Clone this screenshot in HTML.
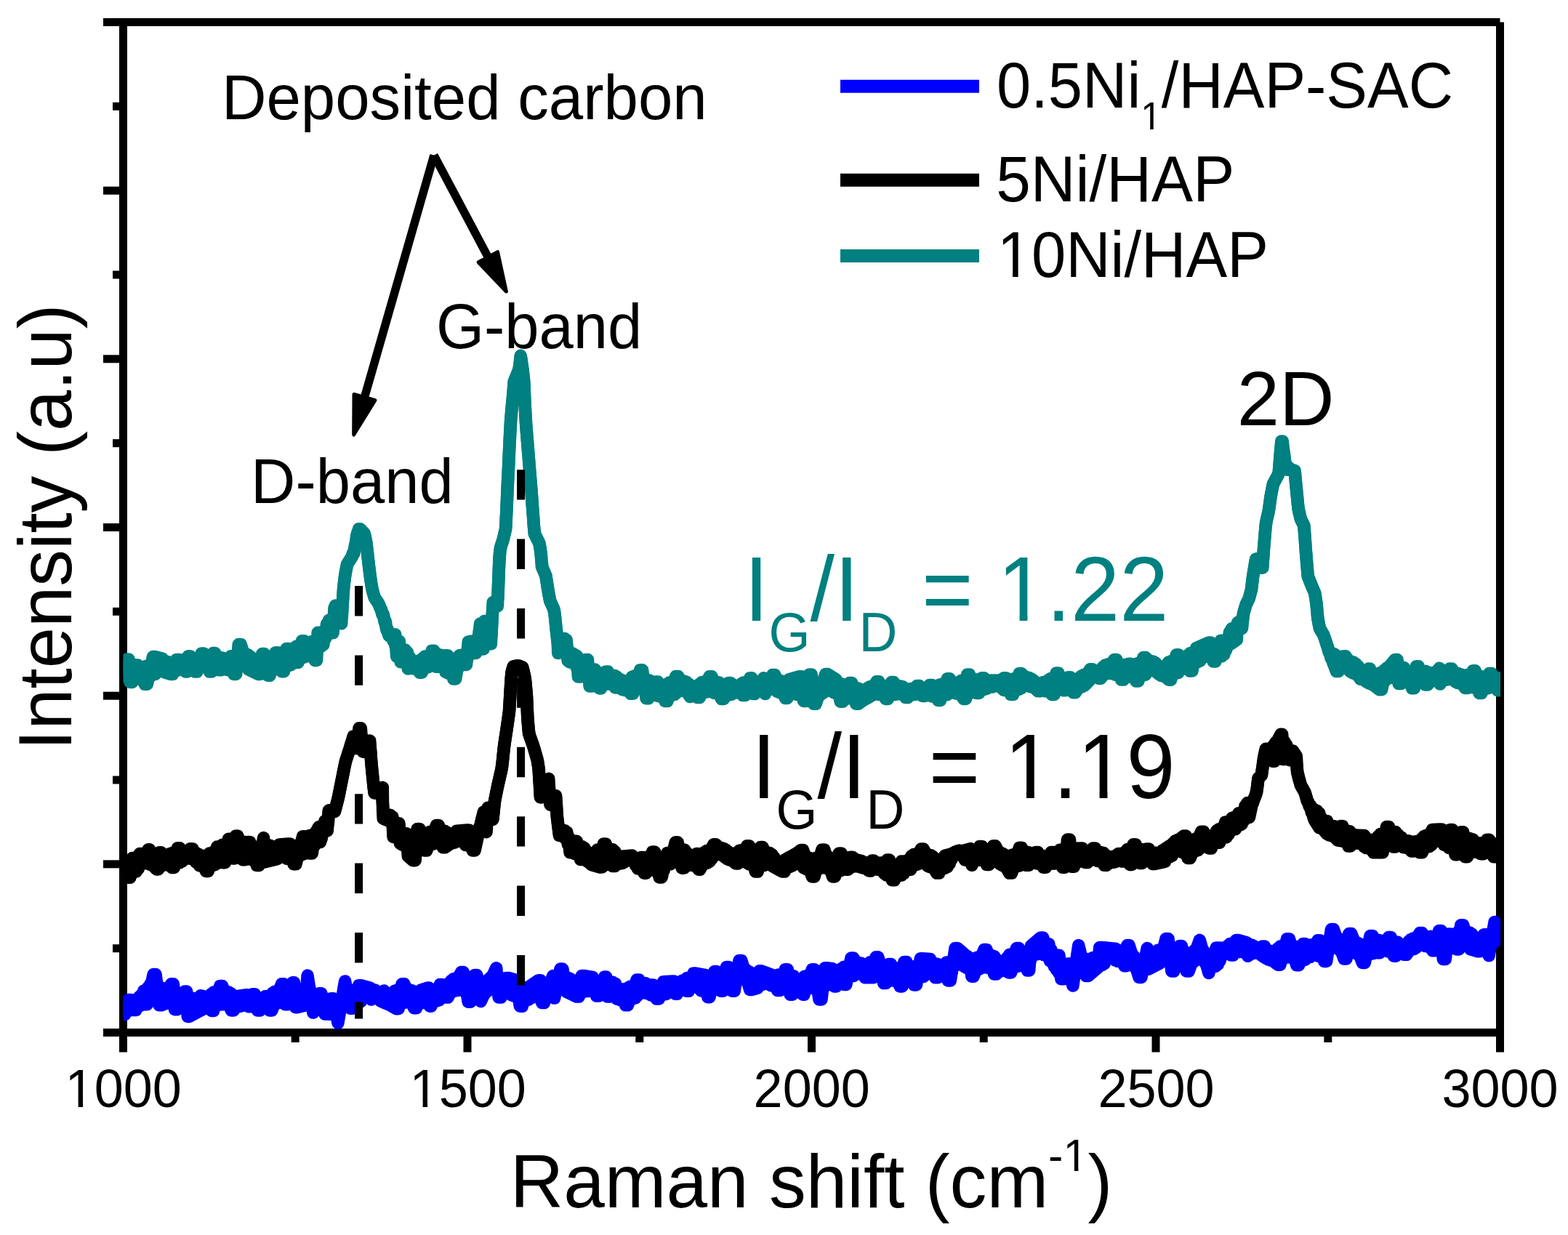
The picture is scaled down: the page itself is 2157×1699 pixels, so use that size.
<!DOCTYPE html>
<html lang="en"><head><meta charset="utf-8"><title>Raman spectra</title>
<style>
html,body{margin:0;padding:0;background:#fff;}
body{width:2157px;height:1699px;overflow:hidden;font-family:"Liberation Sans",sans-serif;}
svg{display:block;}
text{font-family:"Liberation Sans",sans-serif;}
</style></head><body>
<svg width="2157" height="1699" viewBox="0 0 2157 1699"><rect x="0" y="0" width="2157" height="1699" fill="#fff"/><g id="axes"><line x1="142.0" y1="30.5" x2="2063.5" y2="30.5" stroke="#000" stroke-width="11"/><line x1="142.0" y1="1420.5" x2="2063.5" y2="1420.5" stroke="#000" stroke-width="11"/><line x1="169.5" y1="30.5" x2="169.5" y2="1447.5" stroke="#000" stroke-width="11"/><line x1="2063.5" y1="30.5" x2="2063.5" y2="1447.5" stroke="#000" stroke-width="11"/><line x1="142.0" y1="262.2" x2="169.5" y2="262.2" stroke="#000" stroke-width="11"/><line x1="142.0" y1="493.8" x2="169.5" y2="493.8" stroke="#000" stroke-width="11"/><line x1="142.0" y1="725.5" x2="169.5" y2="725.5" stroke="#000" stroke-width="11"/><line x1="142.0" y1="957.2" x2="169.5" y2="957.2" stroke="#000" stroke-width="11"/><line x1="142.0" y1="1188.8" x2="169.5" y2="1188.8" stroke="#000" stroke-width="11"/><line x1="155.0" y1="146.3" x2="169.5" y2="146.3" stroke="#000" stroke-width="11"/><line x1="155.0" y1="378.0" x2="169.5" y2="378.0" stroke="#000" stroke-width="11"/><line x1="155.0" y1="609.7" x2="169.5" y2="609.7" stroke="#000" stroke-width="11"/><line x1="155.0" y1="841.3" x2="169.5" y2="841.3" stroke="#000" stroke-width="11"/><line x1="155.0" y1="1073.0" x2="169.5" y2="1073.0" stroke="#000" stroke-width="11"/><line x1="155.0" y1="1304.7" x2="169.5" y2="1304.7" stroke="#000" stroke-width="11"/><line x1="643.0" y1="1420.5" x2="643.0" y2="1447.5" stroke="#000" stroke-width="11"/><line x1="1116.5" y1="1420.5" x2="1116.5" y2="1447.5" stroke="#000" stroke-width="11"/><line x1="1590.0" y1="1420.5" x2="1590.0" y2="1447.5" stroke="#000" stroke-width="11"/><line x1="406.2" y1="1420.5" x2="406.2" y2="1434.0" stroke="#000" stroke-width="11"/><line x1="879.8" y1="1420.5" x2="879.8" y2="1434.0" stroke="#000" stroke-width="11"/><line x1="1353.2" y1="1420.5" x2="1353.2" y2="1434.0" stroke="#000" stroke-width="11"/><line x1="1826.8" y1="1420.5" x2="1826.8" y2="1434.0" stroke="#000" stroke-width="11"/></g><g id="curves"><clipPath id="c"><rect x="169.5" y="30.5" width="1894.4" height="1390.0"/></clipPath><g clip-path="url(#c)"><polyline points="167.8,1380.6 169.3,1390.5 170.8,1380.6 172.3,1390.5 173.8,1380.6 175.3,1390.5 176.8,1380.1 178.3,1390.1 179.8,1378.8 181.3,1389.4 182.8,1377.3 184.3,1387.4 185.8,1376.6 187.3,1385.6 188.8,1376.2 190.3,1385.0 191.8,1374.3 193.3,1383.2 194.8,1368.3 196.3,1379.6 197.8,1362.9 199.3,1377.3 200.8,1361.8 202.3,1375.3 203.8,1358.3 205.3,1370.6 206.8,1354.0 208.3,1366.5 209.8,1349.7 211.3,1362.4 212.8,1347.7 214.3,1363.1 215.8,1352.5 217.3,1371.1 218.8,1360.9 220.3,1375.6 221.8,1361.2 223.3,1375.1 224.8,1359.6 226.3,1375.8 227.8,1361.0 229.3,1378.1 230.8,1362.9 232.3,1379.8 233.8,1362.6 235.3,1379.1 236.8,1362.2 238.3,1379.2 239.8,1363.0 241.3,1380.2 242.8,1364.6 244.3,1382.2 245.8,1367.5 247.3,1383.7 248.8,1368.5 250.3,1385.2 251.8,1369.9 253.3,1387.2 254.8,1372.2 256.3,1389.3 257.8,1372.8 259.3,1389.9 260.8,1373.0 262.3,1389.9 263.8,1373.0 265.3,1389.9 266.8,1373.8 268.3,1390.5 269.8,1375.6 271.3,1390.9 272.8,1376.9 274.3,1390.5 275.8,1376.6 277.3,1389.4 278.8,1376.2 280.3,1388.1 281.8,1375.8 283.3,1386.9 284.8,1375.1 286.3,1385.4 287.8,1371.7 289.3,1383.6 290.8,1367.3 292.3,1382.3 293.8,1365.1 295.3,1382.1 296.8,1365.1 298.3,1382.0 299.8,1365.0 301.3,1382.0 302.8,1365.0 304.3,1381.9 305.8,1364.9 307.3,1381.7 308.8,1364.9 310.3,1381.6 311.8,1364.9 313.3,1381.6 314.8,1364.9 316.3,1381.9 317.8,1366.7 319.3,1382.9 320.8,1370.6 322.3,1384.2 323.8,1373.6 325.3,1384.7 326.8,1374.2 328.3,1384.7 329.8,1374.1 331.3,1384.2 332.8,1373.5 334.3,1382.4 335.8,1372.6 337.3,1380.7 338.8,1372.1 340.3,1381.6 341.8,1372.7 343.3,1383.3 344.8,1373.3 346.3,1384.5 347.8,1373.4 349.3,1384.5 350.8,1373.4 352.3,1384.5 353.8,1373.4 355.3,1384.5 356.8,1373.4 358.3,1384.5 359.8,1373.6 361.3,1384.7 362.8,1374.5 364.3,1385.0 365.8,1375.4 367.3,1385.0 368.8,1374.1 370.3,1384.1 371.8,1370.3 373.3,1382.7 374.8,1366.2 376.3,1381.4 377.8,1364.2 379.3,1380.5 380.8,1363.6 382.3,1379.9 383.8,1362.8 385.3,1378.7 386.8,1361.7 388.3,1376.4 389.8,1360.4 391.3,1374.9 392.8,1359.8 394.3,1375.8 395.8,1360.0 397.3,1377.0 398.8,1360.3 400.3,1377.3 401.8,1360.3 403.3,1377.3 404.8,1360.3 406.3,1377.3 407.8,1360.9 409.3,1377.5 410.8,1361.0 412.3,1377.5 413.8,1361.4 415.3,1378.3 416.8,1364.9 418.3,1380.4 419.8,1367.6 421.3,1378.4 422.8,1352.6 424.3,1366.6 425.8,1359.2 427.3,1376.0 428.8,1368.7 430.3,1385.5 431.8,1373.9 433.3,1383.5 434.8,1368.0 436.3,1382.0 437.8,1368.2 439.3,1384.5 440.8,1373.0 442.3,1388.0 443.8,1373.9 445.3,1388.0 446.8,1373.9 448.3,1388.5 449.8,1375.6 451.3,1391.8 452.8,1377.4 454.3,1395.3 455.8,1379.5 457.3,1393.9 458.8,1376.9 460.3,1390.8 461.8,1381.0 463.3,1397.0 464.8,1397.6 466.3,1397.9 467.8,1386.1 469.3,1383.1 470.8,1371.3 472.3,1368.2 473.8,1356.6 475.3,1363.0 476.8,1361.9 478.3,1377.3 479.8,1367.1 481.3,1381.0 482.8,1364.0 484.3,1379.0 485.8,1362.5 487.3,1378.8 488.8,1362.9 490.3,1379.1 491.8,1363.6 493.3,1379.4 494.8,1363.5 496.3,1377.8 497.8,1362.4 499.3,1373.9 500.8,1361.1 502.3,1370.6 503.8,1360.5 505.3,1370.1 506.8,1360.6 508.3,1370.2 509.8,1360.9 511.3,1370.3 512.8,1361.4 514.3,1370.6 515.8,1362.2 517.3,1372.1 518.8,1363.9 520.3,1374.7 521.8,1366.3 523.3,1377.0 524.8,1368.1 526.3,1378.5 527.8,1368.5 529.3,1379.9 530.8,1369.0 532.3,1380.9 533.8,1369.2 535.3,1381.5 536.8,1369.2 538.3,1381.1 539.8,1366.4 541.3,1380.1 542.8,1363.3 544.3,1379.2 545.8,1362.3 547.3,1379.2 548.8,1362.3 550.3,1379.2 551.8,1362.3 553.3,1379.2 554.8,1362.3 556.3,1379.2 557.8,1362.2 559.3,1378.9 560.8,1362.1 562.3,1378.6 563.8,1362.0 565.3,1378.5 566.8,1362.7 568.3,1379.1 569.8,1364.8 571.3,1379.7 572.8,1366.4 574.3,1380.0 575.8,1366.2 577.3,1379.8 578.8,1366.0 580.3,1379.8 581.8,1365.9 583.3,1379.3 584.8,1365.7 586.3,1378.5 587.8,1365.4 589.3,1377.8 590.8,1364.4 592.3,1377.3 593.8,1362.9 595.3,1376.9 596.8,1362.0 598.3,1376.8 599.8,1362.0 601.3,1376.8 602.8,1361.9 604.3,1375.8 605.8,1361.2 607.3,1372.5 608.8,1359.9 610.3,1369.1 611.8,1358.6 613.3,1367.3 614.8,1356.4 616.3,1366.3 617.8,1352.6 619.3,1364.9 620.8,1348.9 622.3,1363.9 623.8,1346.8 625.3,1363.3 626.8,1346.1 628.3,1362.3 629.8,1346.3 631.3,1362.2 632.8,1346.0 634.3,1361.4 635.8,1345.3 637.3,1360.5 638.8,1347.2 640.3,1364.6 641.8,1351.9 643.3,1369.3 644.8,1355.7 646.3,1370.6 647.8,1354.1 649.3,1367.9 650.8,1350.6 652.3,1365.7 653.8,1349.6 655.3,1366.2 656.8,1350.3 658.3,1367.7 659.8,1351.6 661.3,1368.5 662.8,1351.5 664.3,1367.9 665.8,1351.3 667.3,1366.6 668.8,1349.9 670.3,1363.8 671.8,1347.4 673.3,1360.6 674.8,1344.7 676.3,1358.3 677.8,1342.4 679.3,1357.0 680.8,1340.9 682.3,1355.8 683.8,1342.8 685.3,1362.1 686.8,1348.8 688.3,1364.3 689.8,1348.3 691.3,1362.7 692.8,1346.3 694.3,1362.1 695.8,1347.9 697.3,1363.5 698.8,1351.8 700.3,1366.4 701.8,1352.8 703.3,1368.7 704.8,1353.6 706.3,1370.0 707.8,1353.7 709.3,1369.7 710.8,1354.9 712.3,1372.7 713.8,1358.4 715.3,1375.8 716.8,1359.8 718.3,1375.9 719.8,1359.1 721.3,1375.4 722.8,1359.0 724.3,1375.4 725.8,1359.1 727.3,1375.2 728.8,1357.7 730.3,1373.2 731.8,1356.7 733.3,1371.8 734.8,1356.3 736.3,1371.6 737.8,1356.4 739.3,1371.8 740.8,1356.4 742.3,1371.8 743.8,1356.3 745.3,1371.6 746.8,1355.4 748.3,1371.3 749.8,1354.3 751.3,1370.8 752.8,1353.8 754.3,1369.7 755.8,1352.3 757.3,1365.6 758.8,1347.6 760.3,1360.3 761.8,1348.9 763.3,1365.6 764.8,1347.7 766.3,1361.0 767.8,1343.9 769.3,1358.2 770.8,1341.1 772.3,1357.2 773.8,1341.2 775.3,1358.5 776.8,1343.4 778.3,1360.5 779.8,1345.0 781.3,1361.8 782.8,1345.6 784.3,1362.5 785.8,1347.3 787.3,1363.4 788.8,1349.1 790.3,1364.0 791.8,1349.6 793.3,1364.0 794.8,1349.6 796.3,1364.0 797.8,1349.6 799.3,1364.0 800.8,1349.6 802.3,1364.0 803.8,1349.6 805.3,1363.9 806.8,1349.6 808.3,1363.6 809.8,1349.5 811.3,1363.3 812.8,1349.4 814.3,1363.3 815.8,1349.5 817.3,1363.3 818.8,1349.8 820.3,1363.5 821.8,1350.3 823.3,1363.9 824.8,1350.6 826.3,1364.3 827.8,1350.8 829.3,1364.3 830.8,1350.8 832.3,1364.3 833.8,1350.9 835.3,1364.9 836.8,1351.1 838.3,1365.5 839.8,1351.3 841.3,1365.8 842.8,1351.3 844.3,1366.6 845.8,1355.2 847.3,1370.6 848.8,1359.5 850.3,1374.6 851.8,1361.5 853.3,1375.7 854.8,1361.5 856.3,1375.9 857.8,1362.7 859.3,1376.0 860.8,1361.8 862.3,1375.5 863.8,1359.1 865.3,1374.4 866.8,1357.2 868.3,1373.9 869.8,1356.9 871.3,1373.7 872.8,1356.6 874.3,1372.8 875.8,1355.8 877.3,1369.6 878.8,1354.3 880.3,1364.8 881.8,1352.9 883.3,1361.9 884.8,1352.4 886.3,1361.5 887.8,1352.7 889.3,1363.7 890.8,1354.7 892.3,1367.0 893.8,1357.9 895.3,1369.0 896.8,1359.6 898.3,1369.0 899.8,1358.3 901.3,1368.5 902.8,1356.7 904.3,1368.1 905.8,1356.3 907.3,1368.1 908.8,1356.1 910.3,1368.0 911.8,1356.0 913.3,1368.0 914.8,1355.9 916.3,1367.5 917.8,1355.4 919.3,1365.4 920.8,1354.7 922.3,1363.3 923.8,1354.2 925.3,1362.8 926.8,1354.0 928.3,1362.8 929.8,1353.8 931.3,1362.7 932.8,1353.8 934.3,1362.7 935.8,1353.8 937.3,1362.5 938.8,1351.8 940.3,1361.5 941.8,1348.4 943.3,1359.3 944.8,1345.5 946.3,1357.8 947.8,1345.1 949.3,1357.2 950.8,1345.1 952.3,1357.2 953.8,1345.1 955.3,1357.2 956.8,1345.0 958.3,1357.2 959.8,1345.5 961.3,1359.9 962.8,1346.4 964.3,1362.9 965.8,1347.2 967.3,1363.4 968.8,1346.6 970.3,1362.8 971.8,1346.0 973.3,1363.1 974.8,1346.4 976.3,1363.2 977.8,1346.1 979.3,1362.6 980.8,1345.5 982.3,1361.9 983.8,1344.5 985.3,1360.1 986.8,1342.6 988.3,1358.4 989.8,1340.8 991.3,1356.3 992.8,1339.0 994.3,1355.1 995.8,1338.6 997.3,1355.1 998.8,1338.6 1000.3,1354.6 1001.8,1337.1 1003.3,1352.2 1004.8,1336.7 1006.3,1354.2 1007.8,1340.4 1009.3,1356.0 1010.8,1340.3 1012.3,1352.1 1013.8,1334.7 1015.3,1346.4 1016.8,1329.0 1018.3,1343.5 1019.8,1328.9 1021.3,1345.1 1022.8,1331.5 1024.3,1347.9 1025.8,1333.8 1027.3,1350.3 1028.8,1335.8 1030.3,1352.6 1031.8,1337.4 1033.3,1353.7 1034.8,1339.4 1036.3,1354.4 1037.8,1341.5 1039.3,1354.9 1040.8,1342.1 1042.3,1354.9 1043.8,1342.1 1045.3,1354.9 1046.8,1342.0 1048.3,1354.6 1049.8,1341.9 1051.3,1353.6 1052.8,1341.2 1054.3,1352.3 1055.8,1341.3 1057.3,1353.1 1058.8,1342.2 1060.3,1355.7 1061.8,1343.1 1063.3,1356.1 1064.8,1343.6 1066.3,1355.9 1067.8,1342.5 1069.3,1355.5 1070.8,1341.1 1072.3,1355.9 1073.8,1341.5 1075.3,1357.7 1076.8,1342.1 1078.3,1359.1 1079.8,1342.2 1081.3,1359.1 1082.8,1342.2 1084.3,1359.3 1085.8,1342.6 1087.3,1359.7 1088.8,1342.8 1090.3,1359.7 1091.8,1342.7 1093.3,1360.0 1094.8,1346.3 1096.3,1361.7 1097.8,1351.1 1099.3,1362.9 1100.8,1351.6 1102.3,1361.8 1103.8,1346.5 1105.3,1360.3 1106.8,1343.3 1108.3,1359.6 1109.8,1342.6 1111.3,1359.4 1112.8,1343.2 1114.3,1359.2 1115.8,1342.5 1117.3,1357.3 1118.8,1341.1 1120.3,1355.8 1121.8,1343.3 1123.3,1360.4 1124.8,1349.1 1126.3,1366.4 1127.8,1354.1 1129.3,1368.0 1130.8,1351.6 1132.3,1360.8 1133.8,1342.0 1135.3,1352.7 1136.8,1338.7 1138.3,1353.2 1139.8,1339.4 1141.3,1354.3 1142.8,1339.1 1144.3,1352.5 1145.8,1338.5 1147.3,1350.7 1148.8,1338.1 1150.3,1350.7 1151.8,1338.3 1153.3,1350.7 1154.8,1337.2 1156.3,1348.9 1157.8,1332.7 1159.3,1346.5 1160.8,1330.2 1162.3,1347.4 1163.8,1330.8 1165.3,1345.7 1166.8,1328.4 1168.3,1344.1 1169.8,1326.9 1171.3,1342.9 1172.8,1326.5 1174.3,1342.6 1175.8,1326.1 1177.3,1340.6 1178.8,1325.3 1180.3,1338.3 1181.8,1324.8 1183.3,1338.2 1184.8,1325.3 1186.3,1338.6 1187.8,1327.4 1189.3,1339.3 1190.8,1328.0 1192.3,1338.9 1193.8,1326.0 1195.3,1338.0 1196.8,1323.8 1198.3,1337.8 1199.8,1324.1 1201.3,1339.5 1202.8,1325.1 1204.3,1341.1 1205.8,1325.1 1207.3,1341.8 1208.8,1325.4 1210.3,1342.5 1211.8,1326.4 1213.3,1343.5 1214.8,1327.3 1216.3,1344.3 1217.8,1327.6 1219.3,1344.5 1220.8,1329.5 1222.3,1345.3 1223.8,1332.6 1225.3,1347.7 1226.8,1333.8 1228.3,1349.0 1229.8,1333.6 1231.3,1349.0 1232.8,1332.6 1234.3,1348.6 1235.8,1331.8 1237.3,1348.5 1238.8,1331.8 1240.3,1348.5 1241.8,1331.8 1243.3,1348.5 1244.8,1331.8 1246.3,1348.5 1247.8,1331.8 1249.3,1348.5 1250.8,1331.6 1252.3,1347.5 1253.8,1330.4 1255.3,1346.7 1256.8,1329.8 1258.3,1346.6 1259.8,1330.1 1261.3,1346.3 1262.8,1328.9 1264.3,1344.6 1265.8,1327.3 1267.3,1343.6 1268.8,1327.1 1270.3,1343.6 1271.8,1326.7 1273.3,1341.3 1274.8,1325.8 1276.3,1338.8 1277.8,1325.2 1279.3,1338.3 1280.8,1325.3 1282.3,1338.3 1283.8,1325.4 1285.3,1338.4 1286.8,1325.6 1288.3,1338.5 1289.8,1326.5 1291.3,1340.4 1292.8,1329.7 1294.3,1342.7 1295.8,1332.5 1297.3,1342.7 1298.8,1328.1 1300.3,1338.9 1301.8,1323.9 1303.3,1340.1 1304.8,1328.0 1306.3,1342.5 1307.8,1328.0 1309.3,1337.1 1310.8,1319.9 1312.3,1329.0 1313.8,1311.8 1315.3,1324.5 1316.8,1311.6 1318.3,1327.1 1319.8,1312.3 1321.3,1326.4 1322.8,1312.3 1324.3,1327.4 1325.8,1313.1 1327.3,1330.4 1328.8,1314.7 1330.3,1331.7 1331.8,1316.1 1333.3,1333.5 1334.8,1318.1 1336.3,1335.1 1337.8,1319.4 1339.3,1335.2 1340.8,1318.9 1342.3,1334.5 1343.8,1317.3 1345.3,1333.4 1346.8,1316.6 1348.3,1332.7 1349.8,1315.5 1351.3,1331.3 1352.8,1314.6 1354.3,1330.6 1355.8,1314.5 1357.3,1331.1 1358.8,1314.8 1360.3,1331.6 1361.8,1314.8 1363.3,1331.6 1364.8,1314.8 1366.3,1331.6 1367.8,1315.7 1369.3,1332.4 1370.8,1319.6 1372.3,1334.0 1373.8,1324.6 1375.3,1335.4 1376.8,1327.1 1378.3,1335.7 1379.8,1326.9 1381.3,1334.8 1382.8,1323.1 1384.3,1332.4 1385.8,1316.9 1387.3,1330.2 1388.8,1313.2 1390.3,1329.6 1391.8,1312.9 1393.3,1329.6 1394.8,1312.9 1396.3,1329.6 1397.8,1312.9 1399.3,1329.6 1400.8,1312.8 1402.3,1328.8 1403.8,1312.0 1405.3,1327.2 1406.8,1310.4 1408.3,1326.0 1409.8,1309.5 1411.3,1326.2 1412.8,1311.3 1414.3,1327.5 1415.8,1312.9 1417.3,1321.2 1418.8,1301.6 1420.3,1314.1 1421.8,1300.0 1423.3,1312.3 1424.8,1299.1 1426.3,1312.9 1427.8,1297.8 1429.3,1311.7 1430.8,1297.1 1432.3,1311.6 1433.8,1297.6 1435.3,1313.5 1436.8,1297.8 1438.3,1313.5 1439.8,1297.8 1441.3,1313.5 1442.8,1298.7 1444.3,1317.3 1445.8,1306.3 1447.3,1324.4 1448.8,1312.2 1450.3,1329.6 1451.8,1316.6 1453.3,1334.0 1454.8,1320.6 1456.3,1338.0 1457.8,1322.4 1459.3,1339.1 1460.8,1324.7 1462.3,1342.2 1463.8,1327.0 1465.3,1342.5 1466.8,1326.2 1468.3,1338.9 1469.8,1325.7 1471.3,1339.8 1472.8,1334.0 1474.3,1347.5 1475.8,1347.2 1477.3,1345.4 1478.8,1331.3 1480.3,1328.4 1481.8,1314.3 1483.3,1311.8 1484.8,1307.2 1486.3,1320.3 1487.8,1315.8 1489.3,1329.7 1490.8,1319.7 1492.3,1333.6 1493.8,1319.1 1495.3,1334.6 1496.8,1319.8 1498.3,1334.7 1499.8,1319.2 1501.3,1334.2 1502.8,1317.7 1504.3,1333.3 1505.8,1317.3 1507.3,1332.7 1508.8,1316.1 1510.3,1331.1 1511.8,1312.7 1513.3,1328.2 1514.8,1311.7 1516.3,1327.6 1517.8,1311.3 1519.3,1325.6 1520.8,1309.8 1522.3,1318.6 1523.8,1307.5 1525.3,1312.8 1526.8,1306.3 1528.3,1313.2 1529.8,1307.6 1531.3,1317.5 1532.8,1309.2 1534.3,1321.0 1535.8,1309.7 1537.3,1322.3 1538.8,1308.8 1540.3,1322.0 1541.8,1307.7 1543.3,1321.8 1544.8,1307.7 1546.3,1321.8 1547.8,1307.7 1549.3,1323.0 1550.8,1308.0 1552.3,1323.5 1553.8,1308.8 1555.3,1325.3 1556.8,1311.7 1558.3,1327.4 1559.8,1315.4 1561.3,1330.9 1562.8,1318.5 1564.3,1334.5 1565.8,1321.0 1567.3,1336.7 1568.8,1321.2 1570.3,1336.2 1571.8,1318.9 1573.3,1333.9 1574.8,1316.7 1576.3,1331.7 1577.8,1314.5 1579.3,1332.9 1580.8,1317.3 1582.3,1331.7 1583.8,1315.1 1585.3,1328.0 1586.8,1312.4 1588.3,1325.5 1589.8,1309.9 1591.3,1324.1 1592.8,1307.3 1594.3,1322.6 1595.8,1307.1 1597.3,1320.9 1598.8,1304.9 1600.3,1317.8 1601.8,1301.6 1603.3,1312.8 1604.8,1298.0 1606.3,1311.2 1607.8,1301.1 1609.3,1320.1 1610.8,1312.5 1612.3,1329.5 1613.8,1316.3 1615.3,1328.4 1616.8,1311.2 1618.3,1324.3 1619.8,1308.1 1621.3,1324.1 1622.8,1309.3 1624.3,1326.8 1625.8,1310.1 1627.3,1327.1 1628.8,1310.3 1630.3,1327.4 1631.8,1310.7 1633.3,1327.8 1634.8,1311.6 1636.3,1327.5 1637.8,1310.8 1639.3,1325.6 1640.8,1309.2 1642.3,1323.0 1643.8,1306.9 1645.3,1320.9 1646.8,1304.4 1648.3,1318.2 1649.8,1302.1 1651.3,1317.4 1652.8,1304.5 1654.3,1320.4 1655.8,1308.2 1657.3,1324.1 1658.8,1312.0 1660.3,1327.9 1661.8,1314.2 1663.3,1330.0 1664.8,1313.2 1666.3,1329.0 1667.8,1312.6 1669.3,1329.4 1670.8,1312.4 1672.3,1329.3 1673.8,1312.1 1675.3,1326.9 1676.8,1310.8 1678.3,1321.3 1679.8,1308.5 1681.3,1315.0 1682.8,1306.9 1684.3,1311.7 1685.8,1304.4 1687.3,1310.2 1688.8,1301.0 1690.3,1309.1 1691.8,1298.5 1693.3,1308.9 1694.8,1298.5 1696.3,1308.9 1697.8,1298.5 1699.3,1308.9 1700.8,1298.5 1702.3,1309.0 1703.8,1298.7 1705.3,1309.4 1706.8,1298.8 1708.3,1309.6 1709.8,1298.8 1711.3,1309.6 1712.8,1298.8 1714.3,1309.6 1715.8,1299.0 1717.3,1309.8 1718.8,1299.5 1720.3,1310.0 1721.8,1300.2 1723.3,1310.2 1724.8,1301.6 1726.3,1310.9 1727.8,1303.6 1729.3,1311.1 1730.8,1305.2 1732.3,1312.2 1733.8,1305.6 1735.3,1314.3 1736.8,1306.5 1738.3,1316.4 1739.8,1307.1 1741.3,1318.2 1742.8,1307.7 1744.3,1319.8 1745.8,1308.1 1747.3,1320.8 1748.8,1308.4 1750.3,1321.2 1751.8,1309.7 1753.3,1321.4 1754.8,1308.7 1756.3,1320.5 1757.8,1304.8 1759.3,1319.2 1760.8,1302.1 1762.3,1318.6 1763.8,1301.6 1765.3,1318.0 1766.8,1301.0 1768.3,1317.4 1769.8,1300.3 1771.3,1316.9 1772.8,1300.2 1774.3,1317.0 1775.8,1300.7 1777.3,1317.7 1778.8,1301.5 1780.3,1318.5 1781.8,1302.1 1783.3,1319.2 1784.8,1303.2 1786.3,1319.8 1787.8,1304.6 1789.3,1320.2 1790.8,1305.9 1792.3,1320.4 1793.8,1305.9 1795.3,1320.4 1796.8,1305.4 1798.3,1317.7 1799.8,1302.7 1801.3,1313.6 1802.8,1300.0 1804.3,1310.9 1805.8,1299.5 1807.3,1312.0 1808.8,1300.1 1810.3,1313.8 1811.8,1300.8 1813.3,1315.3 1814.8,1300.3 1816.3,1312.9 1817.8,1297.1 1819.3,1312.4 1820.8,1298.5 1822.3,1315.2 1823.8,1302.0 1825.3,1314.1 1826.8,1296.8 1828.3,1306.7 1829.8,1289.4 1831.3,1299.8 1832.8,1285.4 1834.3,1299.8 1835.8,1287.0 1837.3,1302.8 1838.8,1289.4 1840.3,1305.3 1841.8,1291.3 1843.3,1307.6 1844.8,1293.0 1846.3,1309.8 1847.8,1294.3 1849.3,1310.9 1850.8,1294.3 1852.3,1310.6 1853.8,1293.3 1855.3,1309.9 1856.8,1292.8 1858.3,1309.2 1859.8,1292.9 1861.3,1309.7 1862.8,1294.1 1864.3,1311.0 1865.8,1296.2 1867.3,1312.6 1868.8,1297.8 1870.3,1314.6 1871.8,1299.3 1873.3,1315.9 1874.8,1300.1 1876.3,1316.1 1877.8,1299.5 1879.3,1315.1 1880.8,1297.9 1882.3,1313.6 1883.8,1296.4 1885.3,1312.4 1886.8,1295.9 1888.3,1311.8 1889.8,1295.4 1891.3,1308.9 1892.8,1294.2 1894.3,1305.5 1895.8,1293.3 1897.3,1305.0 1898.8,1293.8 1900.3,1305.2 1901.8,1294.4 1903.3,1306.3 1904.8,1295.3 1906.3,1307.8 1907.8,1295.8 1909.3,1308.8 1910.8,1295.9 1912.3,1308.8 1913.8,1295.9 1915.3,1308.8 1916.8,1295.9 1918.3,1308.8 1919.8,1295.9 1921.3,1308.8 1922.8,1296.2 1924.3,1309.4 1925.8,1299.5 1927.3,1310.5 1928.8,1302.6 1930.3,1310.8 1931.8,1301.9 1933.3,1309.5 1934.8,1298.8 1936.3,1307.8 1937.8,1295.1 1939.3,1306.7 1940.8,1292.4 1942.3,1306.0 1943.8,1291.1 1945.3,1305.5 1946.8,1290.7 1948.3,1303.7 1949.8,1289.8 1951.3,1300.4 1952.8,1288.8 1954.3,1298.7 1955.8,1288.7 1957.3,1299.7 1958.8,1289.3 1960.3,1301.4 1961.8,1289.7 1963.3,1301.8 1964.8,1289.3 1966.3,1301.5 1967.8,1288.3 1969.3,1301.4 1970.8,1288.8 1972.3,1304.8 1973.8,1291.1 1975.3,1307.2 1976.8,1290.8 1978.3,1305.3 1979.8,1288.4 1981.3,1304.2 1982.8,1289.2 1984.3,1308.9 1985.8,1295.8 1987.3,1311.6 1988.8,1295.1 1990.3,1308.4 1991.8,1290.3 1993.3,1306.1 1994.8,1289.5 1996.3,1304.0 1997.8,1288.8 1999.3,1303.5 2000.8,1286.1 2002.3,1301.0 2003.8,1283.6 2005.3,1297.8 2006.8,1281.0 2008.3,1297.6 2009.8,1281.0 2011.3,1297.8 2012.8,1281.1 2014.3,1298.0 2015.8,1281.4 2017.3,1298.5 2018.8,1282.1 2020.3,1299.4 2021.8,1283.0 2023.3,1300.3 2024.8,1284.9 2026.3,1301.4 2027.8,1288.5 2029.3,1302.6 2030.8,1291.3 2032.3,1303.2 2033.8,1291.9 2035.3,1304.2 2036.8,1292.2 2038.3,1305.1 2039.8,1290.9 2041.3,1302.3 2042.8,1285.7 2044.3,1299.6 2045.8,1285.4 2047.3,1303.6 2048.8,1290.0 2050.3,1301.6 2051.8,1284.4 2053.3,1296.0 2054.8,1278.8 2056.3,1291.5 2057.8,1277.8 2059.3,1293.9 2060.8,1278.5 2062.3,1291.5 2063.8,1276.7 2065.3,1285.9 2066.8,1274.4" fill="none" stroke="#0000ff" stroke-width="17.5" stroke-linejoin="round" stroke-linecap="round"/><polyline points="167.8,1386.5 169.8,1395.5 171.6,1395.5 177.0,1375.6 180.0,1375.6 183.8,1389.6 186.8,1389.6 191.6,1371.7 194.6,1371.7 199.4,1381.8 202.4,1381.8 211.1,1340.5 214.1,1340.5 218.9,1382.8 221.9,1382.8 232.1,1378.9 235.5,1353.8 238.4,1353.8 240.4,1388.7 243.3,1388.7 254.3,1363.9 256.6,1363.9 258.2,1398.4 260.5,1398.4 274.9,1390.6 275.9,1369.8 288.6,1372.7 291.3,1390.6 293.6,1390.6 302.7,1356.5 305.7,1356.5 318.3,1390.0 321.3,1390.0 325.6,1370.7 338.1,1368.8 340.4,1368.8 342.0,1384.8 344.3,1384.8 347.5,1367.8 350.5,1367.8 354.3,1390.0 357.3,1390.0 365.0,1370.7 368.0,1370.7 370.9,1390.0 373.9,1390.0 387.5,1353.8 390.4,1353.8 392.3,1381.8 395.2,1381.8 402.4,1351.8 404.7,1351.8 406.3,1385.7 408.6,1385.7 421.1,1382.8 423.0,1342.1 430.8,1393.1 439.0,1366.8 442.0,1366.8 446.8,1395.1 449.8,1395.1 455.6,1373.7 458.6,1373.7 464.9,1407.2 474.6,1349.9 481.9,1387.3 484.9,1387.3 493.6,1355.7 496.6,1355.7 508.7,1359.0 510.7,1375.0 528.2,1362.9 530.2,1378.9 545.2,1387.7 548.2,1387.7 553.0,1353.8 556.0,1353.8 569.6,1386.7 572.6,1386.7 578.9,1362.0 588.3,1359.0 590.1,1359.0 591.3,1384.2 593.0,1384.2 605.3,1354.6 608.3,1354.6 613.0,1372.1 616.0,1372.1 624.3,1356.1 634.5,1337.6 637.5,1337.6 644.2,1378.3 647.2,1378.3 653.0,1341.5 656.0,1341.5 661.3,1377.5 682.7,1331.8 686.1,1372.1 689.1,1372.1 696.8,1345.4 699.8,1345.4 710.0,1348.3 715.3,1384.2 718.3,1384.2 725.6,1359.0 740.7,1348.7 743.6,1348.7 745.6,1379.5 748.5,1379.5 760.7,1342.5 762.6,1373.1 770.9,1333.1 773.9,1333.1 779.2,1364.3 793.3,1371.1 796.3,1371.1 800.1,1342.5 803.1,1342.5 815.2,1344.4 820.5,1370.1 823.5,1370.1 831.6,1344.0 833.9,1344.0 835.5,1371.1 837.8,1371.1 846.4,1353.2 848.3,1374.0 854.6,1361.0 857.6,1361.0 860.5,1382.8 863.5,1382.8 876.1,1347.9 879.1,1347.9 887.7,1365.9 890.7,1365.9 895.5,1355.1 898.5,1355.1 903.3,1374.0 906.3,1374.0 912.6,1350.7 925.1,1349.9 927.4,1349.9 929.0,1367.2 931.3,1367.2 938.4,1349.3 941.4,1349.3 944.2,1363.3 947.2,1363.3 954.0,1339.0 957.0,1339.0 971.1,1341.5 973.8,1371.7 976.1,1371.7 982.9,1336.6 985.9,1336.6 991.6,1363.3 994.6,1363.3 999.4,1330.4 1002.4,1330.4 1007.2,1363.3 1010.2,1363.3 1016.9,1321.4 1019.9,1321.4 1031.6,1361.4 1034.6,1361.4 1041.8,1359.4 1044.6,1335.7 1046.9,1335.7 1065.2,1342.5 1069.5,1362.4 1072.5,1362.4 1080.3,1333.7 1083.3,1333.7 1087.1,1368.2 1090.1,1368.2 1101.3,1350.3 1103.1,1350.3 1104.3,1368.2 1106.0,1368.2 1117.3,1333.7 1120.3,1333.7 1127.0,1375.0 1130.0,1375.0 1134.8,1331.8 1137.8,1331.8 1145.1,1332.7 1147.8,1356.9 1150.1,1356.9 1157.5,1332.7 1159.9,1332.7 1161.4,1354.6 1163.8,1354.6 1170.9,1318.1 1173.9,1318.1 1189.9,1344.8 1201.6,1344.8 1205.0,1316.8 1207.9,1316.8 1215.7,1352.6 1218.7,1352.6 1222.5,1326.5 1225.5,1326.5 1238.1,1356.9 1241.1,1356.9 1243.9,1323.4 1246.9,1323.4 1257.5,1354.9 1260.5,1354.9 1266.3,1318.7 1269.3,1318.7 1279.5,1319.5 1286.8,1344.8 1289.8,1344.8 1297.5,1327.9 1300.5,1327.9 1304.3,1349.1 1307.3,1349.1 1314.0,1304.5 1317.0,1304.5 1334.1,1319.1 1336.8,1343.3 1339.1,1343.3 1354.0,1306.4 1357.0,1306.4 1367.6,1339.9 1370.6,1339.9 1377.4,1323.0 1380.4,1323.0 1387.7,1338.0 1390.7,1338.0 1398.4,1304.5 1401.4,1304.5 1413.4,1335.1 1415.7,1335.1 1418.4,1301.2 1431.6,1289.9 1434.6,1289.9 1444.2,1321.4 1447.2,1321.4 1454.0,1314.2 1457.0,1314.2 1459.8,1346.8 1462.8,1346.8 1466.6,1330.0 1469.6,1330.0 1475.9,1356.1 1483.7,1300.6 1493.9,1342.5 1496.9,1342.5 1510.0,1331.2 1512.7,1303.5 1515.1,1303.5 1534.4,1305.1 1546.8,1328.8 1549.2,1328.8 1550.7,1300.6 1553.1,1300.6 1567.0,1344.4 1570.0,1344.4 1578.2,1304.5 1580.1,1333.1 1595.7,1324.9 1604.0,1291.4 1607.0,1291.4 1611.8,1336.1 1614.8,1336.1 1622.5,1301.6 1625.5,1301.6 1632.2,1336.1 1635.2,1336.1 1650.3,1293.4 1662.9,1338.6 1673.1,1303.9 1676.1,1303.9 1687.3,1304.5 1693.6,1314.0 1696.6,1314.0 1700.4,1293.4 1703.4,1293.4 1714.6,1296.7 1716.5,1315.2 1736.5,1302.0 1739.5,1302.0 1745.7,1317.5 1757.9,1327.3 1760.9,1327.3 1770.5,1291.8 1773.5,1291.8 1783.7,1327.7 1786.7,1327.7 1792.5,1298.6 1795.5,1298.6 1799.3,1316.6 1802.3,1316.6 1812.9,1293.8 1815.9,1293.8 1821.7,1322.4 1824.7,1322.4 1831.4,1278.6 1834.4,1278.6 1849.0,1319.1 1852.0,1319.1 1855.8,1284.4 1858.8,1284.4 1874.3,1324.4 1877.3,1324.4 1885.0,1287.5 1888.0,1287.5 1894.8,1310.7 1897.8,1310.7 1910.3,1289.5 1913.3,1289.5 1917.2,1315.2 1920.1,1315.2 1922.1,1299.6 1925.0,1299.6 1931.8,1313.3 1934.8,1313.3 1953.2,1283.6 1956.2,1283.6 1970.7,1307.8 1973.7,1307.8 1979.5,1280.5 1982.5,1280.5 1985.3,1319.5 1988.3,1319.5 1992.2,1285.0 1995.2,1285.0 2003.9,1305.9 2006.9,1305.9 2009.7,1272.7 2012.7,1272.7 2022.9,1305.9 2033.1,1308.8 2036.1,1308.8 2040.9,1286.0 2043.9,1286.0 2048.2,1314.6 2056.0,1268.4 2067.7,1289.1" fill="none" stroke="#0000ff" stroke-width="17.5" stroke-linejoin="round" stroke-linecap="round"/><polyline points="167.8,1195.9 169.3,1202.5 170.8,1190.2 172.3,1200.7 173.8,1187.1 175.3,1200.5 176.8,1186.7 178.3,1200.0 179.8,1184.8 181.3,1199.4 182.8,1182.9 184.3,1199.0 185.8,1182.8 187.3,1199.0 188.8,1181.8 190.3,1195.2 191.8,1178.3 193.3,1189.6 194.8,1174.8 196.3,1185.9 197.8,1174.6 199.3,1186.6 200.8,1174.9 202.3,1187.9 203.8,1175.4 205.3,1188.9 206.8,1175.6 208.3,1189.1 209.8,1175.6 211.3,1189.1 212.8,1175.6 214.3,1189.1 215.8,1176.1 217.3,1189.5 218.8,1177.3 220.3,1189.9 221.8,1178.5 223.3,1190.1 224.8,1178.5 226.3,1190.0 227.8,1178.3 229.3,1189.0 230.8,1176.4 232.3,1187.6 233.8,1174.4 235.3,1186.9 236.8,1173.5 238.3,1186.9 239.8,1173.5 241.3,1186.9 242.8,1173.5 244.3,1186.9 245.8,1173.5 247.3,1186.9 248.8,1173.4 250.3,1185.1 251.8,1172.3 253.3,1181.2 254.8,1171.1 256.3,1179.2 257.8,1171.3 259.3,1180.6 260.8,1172.1 262.3,1181.2 263.8,1172.3 265.3,1181.2 266.8,1172.4 268.3,1183.2 269.8,1173.6 271.3,1187.3 272.8,1175.0 274.3,1190.7 275.8,1176.7 277.3,1191.7 278.8,1179.8 280.3,1192.6 281.8,1181.0 283.3,1192.1 284.8,1177.4 286.3,1190.8 287.8,1174.1 289.3,1190.1 290.8,1173.3 292.3,1190.0 293.8,1173.3 295.3,1189.9 296.8,1173.1 298.3,1188.0 299.8,1170.1 301.3,1183.3 302.8,1165.5 304.3,1179.4 305.8,1162.3 307.3,1178.6 308.8,1162.6 310.3,1178.4 311.8,1161.4 313.3,1176.8 314.8,1159.1 316.3,1175.1 317.8,1159.0 319.3,1176.5 320.8,1160.2 322.3,1176.1 323.8,1158.5 325.3,1174.4 326.8,1158.1 328.3,1174.6 329.8,1158.1 331.3,1174.6 332.8,1158.1 334.3,1174.6 335.8,1158.1 337.3,1175.5 338.8,1161.1 340.3,1178.8 341.8,1164.7 343.3,1182.0 344.8,1166.5 346.3,1182.5 347.8,1166.1 349.3,1182.2 350.8,1165.5 352.3,1182.1 353.8,1165.2 355.3,1182.2 356.8,1165.2 358.3,1181.8 359.8,1164.6 361.3,1181.1 362.8,1164.1 364.3,1181.8 365.8,1164.9 367.3,1180.9 368.8,1164.1 370.3,1179.2 371.8,1163.3 373.3,1178.5 374.8,1165.1 376.3,1179.0 377.8,1166.8 379.3,1179.1 380.8,1167.1 382.3,1178.6 383.8,1166.8 385.3,1178.0 386.8,1166.6 388.3,1177.8 389.8,1166.8 391.3,1179.4 392.8,1167.4 394.3,1181.3 395.8,1167.9 397.3,1181.7 398.8,1167.9 400.3,1181.4 401.8,1166.1 403.3,1180.7 404.8,1164.7 406.3,1180.5 407.8,1163.7 409.3,1179.2 410.8,1162.2 412.3,1177.4 413.8,1160.4 415.3,1175.8 416.8,1158.9 418.3,1174.7 419.8,1157.1 421.3,1171.3 422.8,1153.1 424.3,1166.9 425.8,1149.5 427.3,1165.7 428.8,1148.7 430.3,1165.3 431.8,1148.1 433.3,1162.5 434.8,1145.0 436.3,1157.1 437.8,1139.5 439.3,1152.9 440.8,1145.6 442.3,1152.9 443.8,1137.0 445.3,1145.1 446.8,1129.4 448.3,1140.1 449.8,1131.6 451.3,1133.3 452.8,1114.8 454.3,1118.1 455.8,1115.4 457.3,1116.4 458.8,1116.4 460.3,1115.9 461.8,1111.5 463.3,1105.5 464.8,1099.6 466.3,1092.8 467.8,1085.3 469.3,1077.8 470.8,1070.3 472.3,1062.8 473.8,1055.3 475.3,1048.4 476.8,1043.3 478.3,1038.6 479.8,1033.9 481.3,1029.8 482.8,1024.0 484.3,1024.6 485.8,1014.6 487.3,1024.9 488.8,1013.6 490.3,1028.6 491.8,1011.7 493.3,1023.9 494.8,1008.6 496.3,1022.1 497.8,1015.2 499.3,1034.2 500.8,1025.7 502.3,1031.2 503.8,1025.5 505.3,1023.5 506.8,1021.5 508.3,1020.1 509.8,1034.9 511.3,1054.3 512.8,1069.3 514.3,1084.3 515.8,1090.5 517.3,1089.4 518.8,1088.4 520.3,1087.4 521.8,1085.0 523.3,1089.0 524.8,1083.7 526.3,1104.2 527.8,1120.5 529.3,1127.0 530.8,1123.7 532.3,1128.1 533.8,1128.1 535.3,1128.9 536.8,1121.3 538.3,1132.2 539.8,1123.5 541.3,1149.7 542.8,1135.2 544.3,1150.4 545.8,1134.0 547.3,1147.7 548.8,1134.3 550.3,1158.6 551.8,1152.3 553.3,1162.3 554.8,1152.2 556.3,1159.5 557.8,1148.1 559.3,1160.1 560.8,1158.9 562.3,1175.2 563.8,1162.6 565.3,1175.8 566.8,1162.3 568.3,1176.6 569.8,1162.8 571.3,1175.2 572.8,1154.4 574.3,1162.1 575.8,1147.4 577.3,1161.9 578.8,1150.0 580.3,1167.0 581.8,1153.0 583.3,1168.1 584.8,1151.2 586.3,1163.9 587.8,1146.1 589.3,1161.7 590.8,1144.5 592.3,1161.3 593.8,1144.3 595.3,1161.2 596.8,1144.1 598.3,1160.2 599.8,1143.6 601.3,1158.9 602.8,1143.1 604.3,1158.2 605.8,1143.1 607.3,1158.2 608.8,1143.1 610.3,1158.2 611.8,1143.1 613.3,1158.4 614.8,1144.9 616.3,1159.2 617.8,1147.3 619.3,1159.9 620.8,1148.6 622.3,1159.9 623.8,1148.3 625.3,1159.1 626.8,1147.7 628.3,1157.7 629.8,1147.0 631.3,1156.1 632.8,1146.4 634.3,1155.8 635.8,1147.0 637.3,1158.9 638.8,1148.2 640.3,1162.4 641.8,1149.0 643.3,1163.0 644.8,1148.7 646.3,1162.0 647.8,1146.6 649.3,1161.9 650.8,1149.3 652.3,1163.8 653.8,1152.5 655.3,1158.8 656.8,1147.2 658.3,1148.2 659.8,1137.6 661.3,1137.5 662.8,1127.4 664.3,1128.7 665.8,1118.9 667.3,1128.6 668.8,1133.7 670.3,1126.4 671.8,1111.5 673.3,1119.4 674.8,1121.9 676.3,1127.0 677.8,1127.2 679.3,1113.7 680.8,1100.6 682.3,1093.1 683.8,1085.6 685.3,1078.5 686.8,1072.0 688.3,1065.5 689.8,1059.0 691.3,1048.2 692.8,1033.2 694.3,1021.2 695.8,1011.4 697.3,1001.5 698.8,991.1 700.3,979.7 701.8,956.7 703.3,932.7 704.8,921.8 706.3,917.6 707.8,916.7 709.3,916.4 710.8,916.0 712.3,916.1 713.8,916.1 715.3,916.8 716.8,917.2 718.3,917.8 719.8,922.3 721.3,928.8 722.8,938.6 724.3,956.1 725.8,987.7 727.3,1004.8 728.8,1012.6 730.3,1016.8 731.8,1021.0 733.3,1025.3 734.8,1030.1 736.3,1035.3 737.8,1040.5 739.3,1046.3 740.8,1055.7 742.3,1077.5 743.8,1096.8 745.3,1095.7 746.8,1092.0 748.3,1088.2 749.8,1081.6 751.3,1082.1 752.8,1076.0 754.3,1077.0 755.8,1088.4 757.3,1107.3 758.8,1103.3 760.3,1101.2 761.8,1099.0 763.3,1096.7 764.8,1098.6 766.3,1122.1 767.8,1134.6 769.3,1146.5 770.8,1148.0 772.3,1149.7 773.8,1148.7 775.3,1150.8 776.8,1142.5 778.3,1154.3 779.8,1144.8 781.3,1161.4 782.8,1153.6 784.3,1168.6 785.8,1156.9 787.3,1172.6 788.8,1158.4 790.3,1174.6 791.8,1159.5 793.3,1175.2 794.8,1161.6 796.3,1176.2 797.8,1163.9 799.3,1178.5 800.8,1164.7 802.3,1181.0 803.8,1166.4 805.3,1183.3 806.8,1170.9 808.3,1185.4 809.8,1175.2 811.3,1186.9 812.8,1176.3 814.3,1187.3 815.8,1175.2 817.3,1186.5 818.8,1172.0 820.3,1185.5 821.8,1168.9 823.3,1185.0 824.8,1168.9 826.3,1185.0 827.8,1168.9 829.3,1185.0 830.8,1168.9 832.3,1185.0 833.8,1168.9 835.3,1185.0 836.8,1168.9 838.3,1184.7 839.8,1168.7 841.3,1184.2 842.8,1168.8 844.3,1184.2 845.8,1171.3 847.3,1185.5 848.8,1176.4 850.3,1187.2 851.8,1180.1 853.3,1187.9 854.8,1180.8 856.3,1187.5 857.8,1180.3 859.3,1185.7 860.8,1179.7 862.3,1183.9 863.8,1179.2 865.3,1183.4 866.8,1179.2 868.3,1183.4 869.8,1179.2 871.3,1185.5 872.8,1180.7 874.3,1190.5 875.8,1182.4 877.3,1194.9 878.8,1183.1 880.3,1195.3 881.8,1183.1 883.3,1194.9 884.8,1181.5 886.3,1194.3 887.8,1179.5 889.3,1193.9 890.8,1179.3 892.3,1194.5 893.8,1179.9 895.3,1196.1 896.8,1180.3 898.3,1197.3 899.8,1180.4 901.3,1197.4 902.8,1180.9 904.3,1198.0 905.8,1181.5 907.3,1198.6 908.8,1181.7 910.3,1198.6 911.8,1182.2 913.3,1197.1 914.8,1179.5 916.3,1190.9 917.8,1173.5 919.3,1185.7 920.8,1175.3 922.3,1188.8 923.8,1173.0 925.3,1185.4 926.8,1168.0 928.3,1183.8 929.8,1167.2 931.3,1183.9 932.8,1167.4 934.3,1184.6 935.8,1168.4 937.3,1185.6 938.8,1169.1 940.3,1185.8 941.8,1169.1 943.3,1186.3 944.8,1172.8 946.3,1187.9 947.8,1177.6 949.3,1189.9 950.8,1179.7 952.3,1190.6 953.8,1179.8 955.3,1190.7 956.8,1179.8 958.3,1190.7 959.8,1179.8 961.3,1190.6 962.8,1178.7 964.3,1189.9 965.8,1175.8 967.3,1188.7 968.8,1172.4 970.3,1187.8 971.8,1170.6 973.3,1187.1 974.8,1170.0 976.3,1185.0 977.8,1169.0 979.3,1181.4 980.8,1167.6 982.3,1177.4 983.8,1166.3 985.3,1174.1 986.8,1165.6 988.3,1173.4 989.8,1165.8 991.3,1175.1 992.8,1166.5 994.3,1177.3 995.8,1167.6 997.3,1179.7 998.8,1169.4 1000.3,1181.7 1001.8,1171.8 1003.3,1183.0 1004.8,1174.1 1006.3,1183.7 1007.8,1176.0 1009.3,1184.0 1010.8,1175.6 1012.3,1183.4 1013.8,1172.7 1015.3,1182.4 1016.8,1170.3 1018.3,1181.9 1019.8,1169.7 1021.3,1182.0 1022.8,1170.0 1024.3,1184.0 1025.8,1171.0 1027.3,1187.0 1028.8,1171.9 1030.3,1188.9 1031.8,1172.3 1033.3,1189.4 1034.8,1173.0 1036.3,1190.1 1037.8,1173.7 1039.3,1190.6 1040.8,1173.9 1042.3,1190.7 1043.8,1173.7 1045.3,1190.5 1046.8,1174.0 1048.3,1190.7 1049.8,1174.0 1051.3,1190.5 1052.8,1173.7 1054.3,1189.1 1055.8,1173.3 1057.3,1188.2 1058.8,1173.4 1060.3,1189.3 1061.8,1175.5 1063.3,1191.3 1064.8,1179.3 1066.3,1193.2 1067.8,1183.8 1069.3,1194.6 1070.8,1186.7 1072.3,1195.1 1073.8,1186.6 1075.3,1194.6 1076.8,1184.6 1078.3,1194.0 1079.8,1182.8 1081.3,1193.4 1082.8,1181.0 1084.3,1192.8 1085.8,1179.2 1087.3,1192.2 1088.8,1177.7 1090.3,1190.8 1091.8,1176.1 1093.3,1186.8 1094.8,1174.5 1096.3,1183.1 1097.8,1174.0 1099.3,1184.5 1100.8,1175.4 1102.3,1189.9 1103.8,1177.1 1105.3,1193.8 1106.8,1178.2 1108.3,1195.4 1109.8,1179.2 1111.3,1196.1 1112.8,1179.9 1114.3,1196.9 1115.8,1180.9 1117.3,1197.7 1118.8,1181.3 1120.3,1197.6 1121.8,1180.5 1123.3,1196.5 1124.8,1179.5 1126.3,1195.3 1127.8,1178.3 1129.3,1194.2 1130.8,1177.1 1132.3,1193.5 1133.8,1177.1 1135.3,1194.0 1136.8,1178.2 1138.3,1195.1 1139.8,1179.3 1141.3,1196.2 1142.8,1180.2 1144.3,1197.3 1145.8,1181.3 1147.3,1197.8 1148.8,1181.8 1150.3,1197.9 1151.8,1182.0 1153.3,1197.9 1154.8,1182.0 1156.3,1197.9 1157.8,1181.9 1159.3,1196.4 1160.8,1180.9 1162.3,1193.3 1163.8,1179.9 1165.3,1190.8 1166.8,1179.7 1168.3,1191.0 1169.8,1181.4 1171.3,1191.5 1172.8,1183.1 1174.3,1192.0 1175.8,1183.5 1177.3,1191.8 1178.8,1183.4 1180.3,1192.1 1181.8,1183.6 1183.3,1192.9 1184.8,1184.4 1186.3,1193.8 1187.8,1185.8 1189.3,1194.3 1190.8,1187.1 1192.3,1194.6 1193.8,1187.6 1195.3,1194.6 1196.8,1187.6 1198.3,1194.6 1199.8,1187.6 1201.3,1194.6 1202.8,1187.6 1204.3,1194.6 1205.8,1187.5 1207.3,1194.4 1208.8,1187.0 1210.3,1193.9 1211.8,1187.1 1213.3,1197.0 1214.8,1188.5 1216.3,1201.6 1217.8,1189.9 1219.3,1203.9 1220.8,1190.1 1222.3,1203.9 1223.8,1190.1 1225.3,1203.9 1226.8,1190.1 1228.3,1203.9 1229.8,1190.1 1231.3,1203.9 1232.8,1190.3 1234.3,1204.1 1235.8,1190.9 1237.3,1204.3 1238.8,1191.5 1240.3,1204.0 1241.8,1191.1 1243.3,1201.4 1244.8,1189.5 1246.3,1196.6 1247.8,1186.0 1249.3,1192.6 1250.8,1181.6 1252.3,1190.6 1253.8,1177.7 1255.3,1189.6 1256.8,1175.5 1258.3,1189.2 1259.8,1175.2 1261.3,1189.2 1262.8,1175.1 1264.3,1188.2 1265.8,1174.4 1267.3,1185.9 1268.8,1173.8 1270.3,1185.4 1271.8,1174.2 1273.3,1188.3 1274.8,1175.5 1276.3,1191.4 1277.8,1176.2 1279.3,1192.8 1280.8,1176.8 1282.3,1193.2 1283.8,1178.8 1285.3,1194.1 1286.8,1181.6 1288.3,1194.8 1289.8,1182.7 1291.3,1194.9 1292.8,1182.2 1294.3,1194.7 1295.8,1181.6 1297.3,1194.5 1298.8,1181.0 1300.3,1194.2 1301.8,1180.2 1303.3,1192.5 1304.8,1178.6 1306.3,1188.0 1307.8,1176.1 1309.3,1181.6 1310.8,1173.6 1312.3,1176.9 1313.8,1171.9 1315.3,1174.7 1316.8,1170.9 1318.3,1173.9 1319.8,1170.1 1321.3,1174.2 1322.8,1170.7 1324.3,1178.5 1325.8,1172.0 1327.3,1183.0 1328.8,1172.9 1330.3,1183.6 1331.8,1172.8 1333.3,1183.4 1334.8,1171.9 1336.3,1183.1 1337.8,1170.9 1339.3,1182.8 1340.8,1170.7 1342.3,1182.9 1343.8,1170.7 1345.3,1183.0 1346.8,1170.8 1348.3,1183.2 1349.8,1170.8 1351.3,1183.2 1352.8,1170.6 1354.3,1183.1 1355.8,1170.3 1357.3,1183.0 1358.8,1170.1 1360.3,1182.9 1361.8,1170.1 1363.3,1182.9 1364.8,1170.1 1366.3,1182.9 1367.8,1170.1 1369.3,1183.5 1370.8,1170.6 1372.3,1185.5 1373.8,1171.7 1375.3,1188.5 1376.8,1173.1 1378.3,1190.4 1379.8,1174.4 1381.3,1191.7 1382.8,1176.4 1384.3,1193.1 1385.8,1178.8 1387.3,1193.6 1388.8,1178.3 1390.3,1193.1 1391.8,1176.2 1393.3,1192.5 1394.8,1175.4 1396.3,1192.1 1397.8,1175.1 1399.3,1191.8 1400.8,1174.8 1402.3,1191.0 1403.8,1174.0 1405.3,1188.1 1406.8,1173.0 1408.3,1185.1 1409.8,1172.2 1411.3,1184.3 1412.8,1172.2 1414.3,1184.3 1415.8,1173.0 1417.3,1184.9 1418.8,1175.0 1420.3,1185.9 1421.8,1177.1 1423.3,1187.1 1424.8,1177.5 1426.3,1188.0 1427.8,1177.6 1429.3,1188.1 1430.8,1177.6 1432.3,1188.1 1433.8,1177.6 1435.3,1188.1 1436.8,1177.6 1438.3,1188.1 1439.8,1177.6 1441.3,1188.1 1442.8,1177.6 1444.3,1188.1 1445.8,1177.6 1447.3,1188.1 1448.8,1177.6 1450.3,1188.1 1451.8,1177.6 1453.3,1187.2 1454.8,1173.3 1456.3,1185.4 1457.8,1169.3 1459.3,1184.6 1460.8,1169.1 1462.3,1185.3 1463.8,1169.3 1465.3,1184.3 1466.8,1165.8 1468.3,1179.4 1469.8,1162.9 1471.3,1179.1 1472.8,1165.7 1474.3,1184.3 1475.8,1168.6 1477.3,1184.4 1478.8,1167.6 1480.3,1183.1 1481.8,1167.1 1483.3,1183.6 1484.8,1169.8 1486.3,1185.0 1487.8,1173.1 1489.3,1184.4 1490.8,1172.5 1492.3,1182.6 1493.8,1171.9 1495.3,1181.6 1496.8,1171.8 1498.3,1181.6 1499.8,1171.8 1501.3,1181.6 1502.8,1171.9 1504.3,1182.3 1505.8,1172.3 1507.3,1183.5 1508.8,1172.7 1510.3,1184.5 1511.8,1172.8 1513.3,1184.5 1514.8,1172.8 1516.3,1184.6 1517.8,1173.5 1519.3,1185.1 1520.8,1176.1 1522.3,1186.1 1523.8,1178.4 1525.3,1186.5 1526.8,1178.9 1528.3,1186.4 1529.8,1178.4 1531.3,1186.3 1532.8,1178.3 1534.3,1185.7 1535.8,1177.9 1537.3,1184.4 1538.8,1177.6 1540.3,1184.3 1541.8,1177.8 1543.3,1185.1 1544.8,1175.9 1546.3,1184.2 1547.8,1171.9 1549.3,1182.9 1550.8,1168.6 1552.3,1182.5 1553.8,1168.6 1555.3,1182.5 1556.8,1168.6 1558.3,1182.5 1559.8,1168.6 1561.3,1182.5 1562.8,1168.6 1564.3,1182.5 1565.8,1168.6 1567.3,1182.1 1568.8,1168.4 1570.3,1181.6 1571.8,1168.6 1573.3,1181.8 1574.8,1170.7 1576.3,1182.8 1577.8,1172.9 1579.3,1183.3 1580.8,1173.2 1582.3,1183.3 1583.8,1173.2 1585.3,1183.3 1586.8,1173.2 1588.3,1183.3 1589.8,1173.3 1591.3,1183.4 1592.8,1173.2 1594.3,1183.2 1595.8,1172.2 1597.3,1182.6 1598.8,1170.1 1600.3,1181.9 1601.8,1168.2 1603.3,1180.9 1604.8,1166.3 1606.3,1179.9 1607.8,1164.3 1609.3,1178.8 1610.8,1162.4 1612.3,1177.3 1613.8,1159.8 1615.3,1172.5 1616.8,1156.8 1618.3,1166.7 1619.8,1155.5 1621.3,1167.6 1622.8,1156.5 1624.3,1171.8 1625.8,1157.7 1627.3,1173.0 1628.8,1157.7 1630.3,1173.0 1631.8,1157.7 1633.3,1173.0 1634.8,1157.7 1636.3,1172.9 1637.8,1157.0 1639.3,1172.4 1640.8,1155.5 1642.3,1171.4 1643.8,1154.3 1645.3,1170.6 1646.8,1153.6 1648.3,1169.6 1649.8,1152.5 1651.3,1166.8 1652.8,1151.1 1654.3,1163.4 1655.8,1150.2 1657.3,1161.4 1658.8,1149.9 1660.3,1161.3 1661.8,1149.9 1663.3,1161.3 1664.8,1149.9 1666.3,1161.4 1667.8,1150.1 1669.3,1160.9 1670.8,1147.1 1672.3,1159.3 1673.8,1142.6 1675.3,1158.2 1676.8,1140.7 1678.3,1156.2 1679.8,1139.4 1681.3,1153.5 1682.8,1138.3 1684.3,1152.2 1685.8,1138.1 1687.3,1151.7 1688.8,1135.4 1690.3,1147.6 1691.8,1130.0 1693.3,1140.7 1694.8,1125.2 1696.3,1136.2 1697.8,1124.3 1699.3,1135.2 1700.8,1124.3 1702.3,1135.2 1703.8,1124.3 1705.3,1135.1 1706.8,1122.5 1708.3,1133.6 1709.8,1117.2 1711.3,1128.7 1712.8,1108.8 1714.3,1121.5 1715.8,1104.6 1717.3,1118.0 1718.8,1106.1 1720.3,1114.2 1721.8,1103.9 1723.3,1104.7 1724.8,1099.1 1726.3,1096.5 1727.8,1092.3 1729.3,1084.9 1730.8,1072.4 1732.3,1069.3 1733.8,1067.9 1735.3,1065.7 1736.8,1056.2 1738.3,1047.8 1739.8,1038.4 1741.3,1041.8 1742.8,1033.4 1744.3,1042.6 1745.8,1031.4 1747.3,1043.3 1748.8,1029.4 1750.3,1043.0 1751.8,1025.5 1753.3,1039.1 1754.8,1021.4 1756.3,1036.5 1757.8,1019.4 1759.3,1035.5 1760.8,1018.8 1762.3,1035.3 1763.8,1018.9 1765.3,1037.5 1766.8,1020.3 1768.3,1037.1 1769.8,1024.7 1771.3,1042.5 1772.8,1032.1 1774.3,1045.7 1775.8,1034.4 1777.3,1041.7 1778.8,1036.1 1780.3,1045.5 1781.8,1039.8 1783.3,1048.6 1784.8,1062.2 1786.3,1069.2 1787.8,1074.4 1789.3,1079.6 1790.8,1082.7 1792.3,1085.2 1793.8,1087.8 1795.3,1091.2 1796.8,1096.0 1798.3,1101.8 1799.8,1103.6 1801.3,1109.7 1802.8,1108.3 1804.3,1117.9 1805.8,1112.3 1807.3,1125.9 1808.8,1114.3 1810.3,1129.6 1811.8,1115.4 1813.3,1131.3 1814.8,1118.7 1816.3,1133.7 1817.8,1125.3 1819.3,1138.6 1820.8,1131.7 1822.3,1143.8 1823.8,1135.0 1825.3,1147.1 1826.8,1135.9 1828.3,1148.8 1829.8,1136.3 1831.3,1149.6 1832.8,1136.4 1834.3,1149.6 1835.8,1136.7 1837.3,1150.1 1838.8,1138.8 1840.3,1152.5 1841.8,1141.8 1843.3,1155.5 1844.8,1143.2 1846.3,1157.1 1847.8,1143.3 1849.3,1157.1 1850.8,1143.3 1852.3,1157.1 1853.8,1143.3 1855.3,1157.1 1856.8,1143.7 1858.3,1157.7 1859.8,1146.9 1861.3,1159.0 1862.8,1151.0 1864.3,1160.1 1865.8,1152.8 1867.3,1160.1 1868.8,1152.6 1870.3,1159.9 1871.8,1152.8 1873.3,1161.4 1874.8,1153.8 1876.3,1164.7 1877.8,1154.7 1879.3,1166.6 1880.8,1155.1 1882.3,1166.9 1883.8,1155.2 1885.3,1166.9 1886.8,1155.4 1888.3,1167.3 1889.8,1157.1 1891.3,1167.4 1892.8,1155.0 1894.3,1166.2 1895.8,1150.4 1897.3,1164.6 1898.8,1147.5 1900.3,1164.4 1901.8,1147.7 1903.3,1164.0 1904.8,1146.7 1906.3,1162.9 1907.8,1145.7 1909.3,1162.5 1910.8,1145.9 1912.3,1162.4 1913.8,1145.7 1915.3,1160.5 1916.8,1144.9 1918.3,1158.3 1919.8,1144.5 1921.3,1158.6 1922.8,1148.0 1924.3,1160.6 1925.8,1153.0 1927.3,1163.6 1928.8,1156.2 1930.3,1165.6 1931.8,1156.7 1933.3,1166.1 1934.8,1156.7 1936.3,1166.1 1937.8,1156.8 1939.3,1166.7 1940.8,1158.3 1942.3,1167.9 1943.8,1160.4 1945.3,1168.9 1946.8,1161.5 1948.3,1169.0 1949.8,1160.9 1951.3,1168.5 1952.8,1158.2 1954.3,1167.2 1955.8,1153.7 1957.3,1165.8 1958.8,1150.4 1960.3,1165.1 1961.8,1149.2 1963.3,1164.9 1964.8,1149.1 1966.3,1164.5 1967.8,1148.5 1969.3,1162.3 1970.8,1147.4 1972.3,1158.8 1973.8,1146.4 1975.3,1156.8 1976.8,1146.1 1978.3,1156.8 1979.8,1146.2 1981.3,1156.8 1982.8,1146.2 1984.3,1156.8 1985.8,1146.3 1987.3,1159.3 1988.8,1147.9 1990.3,1163.6 1991.8,1149.3 1993.3,1166.6 1994.8,1149.7 1996.3,1166.8 1997.8,1150.0 1999.3,1167.1 2000.8,1150.7 2002.3,1168.3 2003.8,1152.2 2005.3,1169.2 2006.8,1152.0 2008.3,1168.3 2009.8,1151.4 2011.3,1168.8 2012.8,1152.7 2014.3,1170.1 2015.8,1153.2 2017.3,1170.2 2018.8,1153.2 2020.3,1170.2 2021.8,1153.4 2023.3,1170.8 2024.8,1156.6 2026.3,1171.9 2027.8,1159.8 2029.3,1172.0 2030.8,1160.4 2032.3,1170.7 2033.8,1160.0 2035.3,1169.8 2036.8,1159.9 2038.3,1169.9 2039.8,1160.2 2041.3,1171.0 2042.8,1160.7 2044.3,1172.3 2045.8,1161.1 2047.3,1172.8 2048.8,1161.1 2050.3,1172.8 2051.8,1161.1 2053.3,1172.8 2054.8,1161.1 2056.3,1172.8 2057.8,1161.1 2059.3,1173.1 2060.8,1163.6 2062.3,1174.2 2063.8,1166.7 2065.3,1175.1 2066.8,1168.5" fill="none" stroke="#000000" stroke-width="17.5" stroke-linejoin="round" stroke-linecap="round"/><polyline points="167.8,1198.2 176.0,1207.2 179.0,1207.2 181.9,1180.5 184.9,1180.5 188.1,1191.6 190.4,1191.6 192.0,1174.6 194.3,1174.6 197.5,1182.8 200.5,1182.8 203.9,1168.8 205.7,1168.8 207.7,1187.7 215.3,1195.9 217.7,1195.9 219.2,1172.7 221.6,1172.7 236.4,1193.5 239.4,1193.5 244.2,1166.8 247.2,1166.8 254.9,1180.9 257.9,1180.9 261.8,1167.8 264.8,1167.8 269.5,1185.7 272.5,1185.7 277.3,1177.5 280.3,1177.5 283.2,1198.4 286.2,1198.4 298.8,1164.9 301.8,1164.9 306.6,1186.7 309.6,1186.7 314.4,1154.2 317.4,1154.2 320.5,1180.9 322.9,1180.9 324.4,1149.9 326.8,1149.9 333.8,1182.8 336.8,1182.8 340.7,1158.5 343.7,1158.5 353.3,1190.6 356.3,1190.6 362.6,1152.6 364.6,1185.7 381.1,1181.8 384.0,1162.0 396.2,1161.0 399.2,1161.0 404.0,1188.7 407.0,1188.7 416.6,1150.7 419.6,1150.7 426.4,1174.0 429.3,1174.0 432.7,1148.3 438.6,1137.6 440.5,1158.5 448.3,1129.8 450.3,1142.9 452.2,1115.2 457.5,1116.4 460.5,1116.4 465.5,1096.9 470.2,1073.5 475.2,1048.2 481.5,1028.7 486.1,1013.1 488.5,1013.1 490.0,1026.8 492.4,1026.8 493.9,1001.8 496.3,1001.8 498.5,1028.7 501.4,1028.7 508.7,1019.0 510.7,1048.2 513.0,1071.6 515.0,1091.0 526.3,1083.3 526.6,1114.4 527.2,1126.1 532.6,1128.1 535.5,1128.1 538.0,1124.0 539.8,1124.0 541.0,1151.4 542.7,1151.4 546.5,1132.7 548.9,1132.7 550.4,1160.4 552.8,1160.4 559.4,1146.8 561.3,1177.9 568.2,1183.7 571.2,1183.7 574.1,1140.4 577.1,1140.4 583.8,1170.0 586.8,1170.0 600.4,1135.5 603.4,1135.5 609.2,1165.7 612.2,1165.7 624.3,1157.4 628.2,1143.3 642.3,1142.0 645.3,1142.0 650.1,1170.0 653.1,1170.0 658.4,1145.5 665.3,1117.0 667.1,1117.0 669.1,1144.7 671.0,1111.2 675.8,1127.2 677.9,1127.2 680.4,1102.6 684.7,1081.2 690.5,1055.9 693.5,1026.6 697.3,1001.3 700.7,977.9 702.2,948.7 703.8,925.3 706.1,917.1 710.5,916.0 713.5,916.0 718.8,917.9 722.3,933.1 724.6,958.4 725.8,987.7 727.5,1009.1 733.8,1026.6 739.4,1046.1 741.4,1059.8 743.3,1096.8 744.9,1096.8 754.8,1071.4 756.8,1106.5 764.6,1094.8 766.3,1124.0 769.4,1149.4 782.1,1151.3 784.0,1172.7 790.3,1157.2 793.3,1157.2 798.5,1182.5 800.8,1182.5 802.4,1170.8 804.7,1170.8 813.3,1189.5 825.4,1193.0 828.4,1193.0 830.3,1160.9 833.2,1160.9 842.9,1191.5 845.9,1191.5 852.2,1178.4 869.8,1177.0 871.7,1185.6 882.2,1179.4 884.6,1179.4 886.1,1201.2 888.5,1201.2 897.5,1172.0 900.5,1172.0 907.2,1207.0 910.2,1207.0 917.3,1174.5 919.6,1174.5 921.2,1183.7 923.5,1183.7 929.2,1158.8 932.2,1158.8 938.0,1194.2 941.0,1194.2 958.1,1174.4 959.8,1174.4 961.0,1196.2 962.8,1196.2 981.8,1161.7 984.8,1161.7 1012.0,1188.0 1015.0,1188.0 1027.6,1163.7 1030.6,1163.7 1039.3,1199.1 1042.3,1199.1 1046.1,1165.6 1049.1,1165.6 1062.2,1191.3 1076.3,1199.1 1079.3,1199.1 1084.6,1183.1 1101.6,1169.5 1104.6,1169.5 1117.2,1205.9 1120.2,1205.9 1130.9,1168.9 1133.9,1168.9 1145.5,1205.9 1148.5,1205.9 1154.2,1174.0 1157.2,1174.0 1164.0,1196.2 1167.0,1196.2 1169.8,1179.2 1172.8,1179.2 1195.5,1198.1 1197.8,1198.1 1199.4,1184.1 1201.7,1184.1 1206.8,1196.2 1209.8,1196.2 1220.5,1183.1 1223.5,1183.1 1227.3,1210.8 1230.3,1210.8 1240.0,1185.1 1243.0,1185.1 1249.7,1196.2 1252.7,1196.2 1267.2,1168.1 1270.2,1168.1 1288.7,1201.1 1291.7,1201.1 1299.9,1177.3 1335.0,1167.6 1336.9,1190.3 1347.7,1164.6 1350.7,1164.6 1357.5,1189.4 1360.5,1189.4 1366.2,1163.7 1369.2,1163.7 1388.6,1201.1 1391.6,1201.1 1402.3,1166.2 1405.3,1166.2 1412.0,1190.3 1415.0,1190.3 1424.7,1172.4 1427.7,1172.4 1435.4,1193.3 1438.4,1193.3 1446.1,1172.4 1449.1,1172.4 1461.7,1193.3 1464.7,1193.3 1468.5,1154.9 1471.5,1154.9 1474.4,1192.3 1477.4,1192.3 1486.0,1167.0 1489.0,1167.0 1492.9,1186.5 1495.9,1186.5 1503.6,1167.0 1506.6,1167.0 1519.2,1190.3 1522.2,1190.3 1538.6,1174.4 1541.6,1174.4 1554.3,1189.4 1557.2,1189.4 1559.1,1161.7 1562.1,1161.7 1567.9,1187.4 1570.9,1187.4 1577.6,1168.1 1580.6,1168.1 1585.4,1188.4 1588.4,1188.4 1602.5,1185.5 1606.4,1167.6 1628.3,1150.0 1631.3,1150.0 1634.1,1180.6 1637.1,1180.6 1652.6,1144.2 1655.6,1144.2 1663.3,1167.0 1666.3,1167.0 1671.5,1151.0 1673.8,1151.0 1675.4,1159.2 1677.7,1159.2 1685.7,1131.1 1688.7,1131.1 1696.5,1140.7 1699.5,1140.7 1703.8,1118.8 1706.8,1118.8 1715.6,1124.5 1718.5,1124.5 1721.9,1108.1 1728.7,1089.8 1731.0,1070.3 1735.5,1066.4 1738.4,1043.1 1741.2,1030.2 1743.5,1030.2 1747.2,1031.4 1750.6,1047.2 1753.5,1047.2 1757.0,1019.7 1761.9,1010.3 1763.7,1010.3 1764.8,1044.6 1766.6,1044.6 1773.5,1042.3 1776.2,1033.1 1778.6,1033.1 1783.3,1040.1 1784.6,1062.5 1789.3,1080.1 1794.9,1089.8 1798.3,1101.5 1803.7,1113.2 1808.6,1128.8 1814.9,1138.7 1817.9,1138.7 1822.7,1129.8 1825.7,1129.8 1833.9,1149.4 1840.5,1156.3 1842.9,1156.3 1844.4,1136.4 1846.8,1136.4 1854.9,1164.0 1857.8,1164.0 1859.7,1149.0 1862.6,1149.0 1876.8,1149.4 1889.4,1172.8 1902.1,1172.8 1907.4,1137.4 1910.4,1137.4 1916.2,1165.0 1919.2,1165.0 1924.9,1152.0 1927.9,1152.0 1941.5,1170.9 1944.5,1170.9 1946.4,1157.8 1949.3,1157.8 1953.2,1172.8 1956.2,1172.8 1970.3,1141.6 1980.5,1140.9 1983.5,1140.9 1986.3,1162.1 1989.3,1162.1 1995.1,1141.6 1998.1,1141.6 2001.9,1175.7 2004.9,1175.7 2009.7,1144.8 2012.7,1144.8 2015.5,1178.7 2018.5,1178.7 2023.3,1154.9 2026.3,1154.9 2037.0,1174.8 2040.0,1174.8 2045.7,1155.3 2048.7,1155.3 2054.5,1178.7 2057.5,1178.7 2067.7,1163.9" fill="none" stroke="#000000" stroke-width="17.5" stroke-linejoin="round" stroke-linecap="round"/><polyline points="167.4,914.9 168.9,930.6 170.4,914.9 171.9,930.6 173.4,914.9 174.9,930.6 176.4,914.9 177.9,930.6 179.4,914.9 180.9,930.6 182.4,914.9 183.9,930.8 185.4,915.1 186.9,932.0 188.4,917.6 189.9,933.7 191.4,920.4 192.9,934.6 194.4,920.8 195.9,933.8 197.4,918.2 198.9,933.2 200.4,916.6 201.9,933.1 203.4,916.3 204.9,931.5 206.4,914.3 207.9,929.5 209.4,912.4 210.9,928.2 212.4,911.9 213.9,927.3 215.4,911.0 216.9,923.9 218.4,909.8 219.9,921.3 221.4,909.5 222.9,921.3 224.4,909.6 225.9,921.5 227.4,909.9 228.9,921.6 230.4,910.4 231.9,921.8 233.4,911.2 234.9,922.1 236.4,912.0 237.9,922.3 239.4,912.4 240.9,922.4 242.4,912.4 243.9,922.3 245.4,911.4 246.9,921.6 248.4,909.6 249.9,920.0 251.4,908.3 252.9,918.9 254.4,908.0 255.9,918.7 257.4,908.0 258.9,918.7 260.4,908.0 261.9,918.6 263.4,907.2 264.9,918.2 266.4,906.0 267.9,917.8 269.4,905.3 270.9,917.8 272.4,905.3 273.9,917.8 275.4,905.3 276.9,917.8 278.4,905.2 279.9,917.8 281.4,905.1 282.9,917.7 284.4,905.0 285.9,917.7 287.4,905.0 288.9,917.7 290.4,905.0 291.9,917.7 293.4,905.0 294.9,917.7 296.4,905.0 297.9,917.7 299.4,905.0 300.9,917.3 302.4,904.7 303.9,916.6 305.4,904.9 306.9,917.6 308.4,908.6 309.9,920.7 311.4,912.7 312.9,921.5 314.4,908.1 315.9,918.6 317.4,902.8 318.9,918.0 320.4,903.9 321.9,919.8 323.4,904.8 324.9,918.7 326.4,899.5 327.9,910.3 329.4,894.1 330.9,909.3 332.4,895.2 333.9,911.7 335.4,897.5 336.9,913.9 338.4,899.5 339.9,915.9 341.4,901.0 342.9,918.0 344.4,903.1 345.9,919.5 347.4,905.7 348.9,920.4 350.4,906.9 351.9,920.5 353.4,906.6 354.9,920.9 356.4,906.8 357.9,921.5 359.4,907.0 360.9,921.8 362.4,907.0 363.9,921.8 365.4,906.6 366.9,921.6 368.4,906.0 369.9,921.4 371.4,905.6 372.9,921.4 374.4,905.6 375.9,921.4 377.4,905.6 378.9,920.9 380.4,904.3 381.9,919.3 383.4,902.2 384.9,917.2 386.4,900.8 387.9,915.9 389.4,900.3 390.9,915.9 392.4,900.3 393.9,915.9 395.4,900.3 396.9,915.9 398.4,900.2 399.9,914.9 401.4,896.7 402.9,910.2 404.4,892.1 405.9,905.4 407.4,889.2 408.9,904.2 410.4,889.2 411.9,904.2 413.4,889.2 414.9,904.2 416.4,889.2 417.9,904.2 419.4,889.1 420.9,903.2 422.4,887.6 423.9,900.8 425.4,884.5 426.9,899.2 428.4,882.7 429.9,899.5 431.4,883.9 432.9,900.5 434.4,885.4 435.9,898.0 437.4,875.4 438.9,889.4 440.4,874.7 441.9,889.4 443.4,875.7 444.9,886.9 446.4,870.9 447.9,877.8 449.4,858.3 450.9,868.4 452.4,853.3 453.9,867.7 455.4,854.0 456.9,868.0 458.4,853.1 459.9,847.0 461.4,833.1 462.9,838.4 464.4,841.3 465.9,846.0 467.4,850.7 468.9,855.4 470.4,845.3 471.9,819.4 473.4,801.9 474.9,790.5 476.4,782.1 477.9,775.8 479.4,773.4 480.9,771.0 482.4,768.6 483.9,766.7 485.4,761.5 486.9,761.1 488.4,750.1 489.9,751.6 491.4,736.7 492.9,744.6 494.4,732.7 495.9,740.9 497.4,732.6 498.9,735.9 500.4,733.0 501.9,737.1 503.4,744.1 504.9,755.3 506.4,769.1 507.9,782.0 509.4,794.0 510.9,804.0 512.4,812.1 513.9,817.5 515.4,822.3 516.9,824.6 518.4,826.8 519.9,829.1 521.4,832.0 522.9,836.0 524.4,838.4 525.9,845.2 527.4,845.3 528.9,854.9 530.4,855.2 531.9,866.6 533.4,866.2 534.9,874.1 536.4,874.4 537.9,876.8 539.4,875.1 540.9,881.6 542.4,874.5 543.9,888.7 545.4,887.5 546.9,900.0 548.4,884.4 549.9,901.1 551.4,894.9 552.9,908.8 554.4,894.4 555.9,909.0 557.4,893.9 558.9,910.4 560.4,897.3 561.9,914.2 563.4,904.1 564.9,917.8 566.4,909.0 567.9,919.7 569.4,909.3 570.9,919.9 572.4,909.5 573.9,920.0 575.4,909.7 576.9,920.0 578.4,908.7 579.9,919.2 581.4,905.7 582.9,918.2 584.4,903.0 585.9,917.7 587.4,902.8 588.9,917.7 590.4,902.5 591.9,915.7 593.4,901.7 594.9,913.1 596.4,900.8 597.9,911.7 599.4,900.8 600.9,911.7 602.4,900.8 603.9,911.7 605.4,900.9 606.9,913.6 608.4,903.7 609.9,919.3 611.4,907.6 612.9,924.5 614.4,909.8 615.9,925.9 617.4,909.8 618.9,925.9 620.4,909.8 621.9,925.9 623.4,909.8 624.9,925.9 626.4,910.0 627.9,925.7 629.4,908.6 630.9,918.6 632.4,901.6 633.9,912.4 635.4,901.7 636.9,914.4 638.4,903.0 639.9,914.3 641.4,897.3 642.9,906.9 644.4,887.8 645.9,898.4 647.4,882.2 648.9,894.9 650.4,887.7 651.9,898.3 653.4,888.7 654.9,895.0 656.4,878.1 657.9,884.8 659.4,867.0 660.9,878.0 662.4,872.7 663.9,890.2 665.4,873.9 666.9,859.6 668.4,855.9 669.9,863.2 671.4,869.2 672.9,875.5 674.4,881.7 675.9,874.4 677.4,843.5 678.9,829.2 680.4,831.0 681.9,832.7 683.4,833.9 684.9,821.6 686.4,781.7 687.9,757.8 689.4,750.6 690.9,746.1 692.4,741.2 693.9,734.8 695.4,728.4 696.9,700.8 698.4,665.6 699.9,634.2 701.4,601.9 702.9,575.5 704.4,557.9 705.9,541.5 707.4,524.8 708.9,521.0 710.4,517.3 711.9,513.5 713.4,509.8 714.9,502.3 716.4,491.0 717.9,501.3 719.4,512.5 720.9,530.3 722.4,561.6 723.9,587.7 725.4,606.5 726.9,625.2 728.4,644.0 729.9,661.9 731.4,680.8 732.9,702.5 734.4,723.8 735.9,735.4 737.4,738.4 738.9,741.3 740.4,744.3 741.9,747.9 743.4,756.1 744.9,771.1 746.4,781.8 747.9,785.2 749.4,788.5 750.9,792.9 752.4,802.0 753.9,811.6 755.4,819.9 756.9,826.9 758.4,830.4 759.9,833.7 761.4,836.9 762.9,843.8 764.4,857.5 765.9,872.0 767.4,887.2 768.9,896.6 770.4,894.2 771.9,891.9 773.4,885.6 774.9,889.0 776.4,878.4 777.9,892.4 779.4,883.8 780.9,905.2 782.4,895.4 783.9,911.0 785.4,899.2 786.9,911.1 788.4,899.3 789.9,912.7 791.4,901.1 792.9,917.6 794.4,908.2 795.9,925.4 797.4,912.7 798.9,929.1 800.4,914.4 801.9,929.9 803.4,913.6 804.9,928.7 806.4,913.6 807.9,930.3 809.4,917.1 810.9,936.1 812.4,921.3 813.9,937.7 815.4,921.8 816.9,937.0 818.4,920.9 819.9,937.1 821.4,924.2 822.9,939.5 824.4,929.7 825.9,941.1 827.4,929.7 828.9,941.1 830.4,929.7 831.9,941.1 833.4,929.7 834.9,941.1 836.4,929.7 837.9,940.9 839.4,929.6 840.9,940.6 842.4,929.5 843.9,940.5 845.4,929.5 846.9,940.7 848.4,931.1 849.9,942.4 851.4,934.9 852.9,945.8 854.4,938.6 855.9,948.6 857.4,939.9 858.9,949.5 860.4,939.9 861.9,949.4 863.4,939.0 864.9,948.6 866.4,935.2 867.9,947.2 869.4,931.2 870.9,946.3 872.4,930.0 873.9,946.6 875.4,931.0 876.9,947.4 878.4,930.9 879.9,946.5 881.4,929.7 882.9,945.5 884.4,930.8 885.9,948.6 887.4,934.9 888.9,952.5 890.4,937.1 891.9,952.7 893.4,935.9 894.9,952.2 896.4,938.2 897.9,953.4 899.4,942.3 900.9,955.8 902.4,944.1 903.9,957.1 905.4,944.5 906.9,957.8 908.4,944.6 909.9,957.8 911.4,944.6 912.9,957.8 914.4,943.5 915.9,957.1 917.4,941.1 918.9,956.3 920.4,939.1 921.9,956.0 923.4,939.0 924.9,956.0 926.4,939.0 927.9,955.6 929.4,938.6 930.9,953.0 932.4,937.5 933.9,950.3 935.4,936.9 936.9,949.8 938.4,937.1 939.9,950.5 941.4,937.2 942.9,950.6 944.4,938.2 945.9,951.8 947.4,941.0 948.9,953.7 950.4,944.8 951.9,955.1 953.4,947.2 954.9,955.5 956.4,947.3 957.9,955.1 959.4,944.8 960.9,953.9 962.4,940.9 963.9,952.8 965.4,938.5 966.9,952.3 968.4,938.0 969.9,952.3 971.4,938.0 972.9,951.9 974.4,937.6 975.9,950.8 977.4,937.5 978.9,951.3 980.4,938.0 981.9,953.2 983.4,938.5 984.9,953.8 986.4,938.5 987.9,953.8 989.4,939.0 990.9,954.3 992.4,941.3 993.9,955.2 995.4,944.0 996.9,955.9 998.4,945.1 999.9,956.0 1001.4,945.1 1002.9,956.0 1004.4,945.1 1005.9,955.4 1007.4,944.6 1008.9,953.8 1010.4,944.1 1011.9,952.4 1013.4,943.9 1014.9,952.3 1016.4,943.1 1017.9,951.7 1019.4,940.9 1020.9,951.0 1022.4,938.9 1023.9,950.6 1025.4,938.7 1026.9,950.6 1028.4,938.7 1029.9,950.6 1031.4,938.7 1032.9,950.6 1034.4,938.7 1035.9,950.1 1037.4,938.5 1038.9,949.5 1040.4,938.3 1041.9,949.2 1043.4,938.3 1044.9,949.2 1046.4,938.2 1047.9,948.8 1049.4,936.8 1050.9,948.1 1052.4,935.3 1053.9,947.6 1055.4,934.9 1056.9,947.6 1058.4,934.9 1059.9,947.6 1061.4,934.9 1062.9,947.7 1064.4,935.1 1065.9,949.2 1067.4,935.8 1068.9,951.3 1070.4,936.4 1071.9,952.5 1073.4,936.5 1074.9,952.5 1076.4,937.1 1077.9,952.9 1079.4,938.4 1080.9,953.3 1082.4,939.3 1083.9,953.3 1085.4,938.7 1086.9,953.1 1088.4,938.4 1089.9,953.2 1091.4,938.5 1092.9,954.4 1094.4,938.9 1095.9,955.6 1097.4,939.1 1098.9,955.2 1100.4,938.0 1101.9,954.1 1103.4,937.5 1104.9,956.1 1106.4,941.8 1107.9,958.5 1109.4,942.0 1110.9,955.3 1112.4,937.2 1113.9,950.8 1115.4,935.6 1116.9,952.9 1118.4,942.8 1119.9,960.6 1121.4,945.4 1122.9,960.1 1124.4,943.8 1125.9,957.8 1127.4,941.5 1128.9,955.5 1130.4,939.2 1131.9,953.6 1133.4,936.8 1134.9,951.7 1136.4,935.1 1137.9,948.7 1139.4,934.4 1140.9,948.1 1142.4,934.8 1143.9,950.7 1145.4,936.1 1146.9,952.9 1148.4,936.6 1149.9,953.4 1151.4,938.1 1152.9,955.7 1154.4,939.9 1155.9,957.0 1157.4,940.7 1158.9,957.3 1160.4,942.3 1161.9,958.2 1163.4,944.8 1164.9,959.7 1166.4,946.5 1167.9,960.8 1169.4,946.8 1170.9,961.1 1172.4,946.8 1173.9,961.1 1175.4,946.8 1176.9,961.1 1178.4,946.8 1179.9,961.1 1181.4,947.1 1182.9,961.7 1184.4,950.0 1185.9,962.5 1187.4,951.7 1188.9,962.6 1190.4,949.6 1191.9,961.2 1193.4,946.5 1194.9,959.5 1196.4,944.7 1197.9,957.7 1199.4,944.1 1200.9,956.1 1202.4,943.5 1203.9,955.0 1205.4,943.4 1206.9,954.9 1208.4,943.5 1209.9,955.5 1211.4,943.6 1212.9,955.5 1214.4,943.6 1215.9,955.5 1217.4,943.6 1218.9,955.5 1220.4,943.9 1221.9,955.6 1223.4,944.2 1224.9,955.7 1226.4,944.3 1227.9,955.7 1229.4,944.3 1230.9,955.6 1232.4,944.2 1233.9,955.0 1235.4,944.0 1236.9,954.4 1238.4,943.9 1239.9,954.4 1241.4,944.7 1242.9,954.9 1244.4,946.8 1245.9,955.5 1247.4,948.0 1248.9,955.7 1250.4,947.9 1251.9,955.5 1253.4,947.5 1254.9,955.5 1256.4,947.5 1257.9,955.4 1259.4,947.4 1260.9,954.9 1262.4,947.2 1263.9,954.2 1265.4,946.8 1266.9,953.9 1268.4,946.5 1269.9,953.8 1271.4,946.3 1272.9,953.8 1274.4,946.4 1275.9,955.1 1277.4,947.0 1278.9,956.9 1280.4,947.6 1281.9,958.1 1283.4,947.7 1284.9,958.2 1286.4,947.4 1287.9,957.7 1289.4,944.9 1290.9,956.7 1292.4,942.1 1293.9,956.0 1295.4,941.2 1296.9,956.0 1298.4,941.2 1299.9,956.0 1301.4,941.2 1302.9,955.8 1304.4,940.9 1305.9,953.8 1307.4,940.1 1308.9,951.9 1310.4,939.7 1311.9,952.4 1313.4,940.3 1314.9,954.0 1316.4,939.7 1317.9,953.9 1319.4,937.9 1320.9,953.3 1322.4,936.3 1323.9,953.1 1325.4,936.3 1326.9,953.1 1328.4,936.3 1329.9,953.1 1331.4,936.3 1332.9,953.1 1334.4,936.3 1335.9,953.1 1337.4,936.3 1338.9,951.8 1340.4,935.5 1341.9,949.3 1343.4,934.9 1344.9,947.6 1346.4,936.2 1347.9,948.1 1349.4,937.7 1350.9,948.4 1352.4,938.0 1353.9,948.4 1355.4,938.0 1356.9,947.6 1358.4,937.3 1359.9,944.8 1361.4,936.3 1362.9,942.2 1364.4,936.0 1365.9,941.9 1367.4,936.1 1368.9,941.9 1370.4,936.0 1371.9,941.9 1373.4,935.9 1374.9,943.5 1376.4,936.9 1377.9,946.9 1379.4,938.1 1380.9,949.6 1382.4,938.5 1383.9,949.9 1385.4,938.5 1386.9,949.7 1388.4,936.8 1389.9,949.0 1391.4,934.8 1392.9,948.4 1394.4,933.8 1395.9,948.3 1397.4,933.8 1398.9,948.3 1400.4,933.8 1401.9,948.3 1403.4,933.7 1404.9,946.9 1406.4,932.7 1407.9,943.5 1409.4,931.7 1410.9,941.6 1412.4,931.7 1413.9,943.1 1415.4,932.5 1416.9,944.6 1418.4,933.8 1419.9,945.4 1421.4,936.0 1422.9,946.2 1424.4,938.4 1425.9,947.0 1427.4,940.5 1428.9,947.5 1430.4,941.6 1431.9,948.5 1433.4,942.2 1434.9,950.1 1436.4,942.7 1437.9,950.8 1439.4,939.4 1440.9,949.5 1442.4,935.3 1443.9,948.3 1445.4,933.4 1446.9,948.2 1448.4,933.4 1449.9,948.2 1451.4,933.4 1452.9,948.2 1454.4,933.4 1455.9,948.2 1457.4,933.4 1458.9,948.0 1460.4,933.0 1461.9,946.7 1463.4,932.7 1464.9,945.8 1466.4,933.3 1467.9,946.6 1469.4,935.3 1470.9,947.2 1472.4,937.0 1473.9,947.5 1475.4,937.0 1476.9,947.5 1478.4,936.9 1479.9,947.2 1481.4,935.5 1482.9,946.5 1484.4,932.5 1485.9,945.5 1487.4,929.9 1488.9,944.7 1490.4,928.6 1491.9,943.2 1493.4,927.8 1494.9,940.4 1496.4,926.7 1497.9,936.9 1499.4,925.5 1500.9,933.4 1502.4,924.5 1503.9,931.0 1505.4,923.9 1506.9,930.1 1508.4,923.8 1509.9,930.0 1511.4,922.9 1512.9,929.4 1514.4,920.6 1515.9,928.5 1517.4,917.4 1518.9,927.5 1520.4,915.0 1521.9,926.9 1523.4,914.0 1524.9,926.4 1526.4,913.6 1527.9,926.3 1529.4,913.8 1530.9,927.0 1532.4,914.2 1533.9,928.2 1535.4,914.4 1536.9,928.2 1538.4,914.4 1539.9,928.2 1541.4,914.4 1542.9,928.2 1544.4,914.4 1545.9,928.4 1547.4,915.9 1548.9,929.4 1550.4,918.0 1551.9,930.6 1553.4,919.2 1554.9,931.1 1556.4,919.0 1557.9,930.6 1559.4,916.3 1560.9,929.6 1562.4,913.5 1563.9,928.9 1565.4,912.6 1566.9,928.9 1568.4,912.6 1569.9,928.9 1571.4,912.6 1572.9,928.9 1574.4,912.6 1575.9,928.2 1577.4,911.9 1578.9,924.1 1580.4,910.3 1581.9,920.0 1583.4,909.4 1584.9,919.8 1586.4,910.2 1587.9,922.1 1589.4,912.0 1590.9,924.8 1592.4,914.7 1593.9,927.5 1595.4,917.4 1596.9,929.4 1598.4,919.8 1599.9,930.3 1601.4,920.1 1602.9,929.5 1604.4,915.8 1605.9,927.8 1607.4,910.9 1608.9,926.8 1610.4,909.8 1611.9,926.6 1613.4,909.6 1614.9,926.4 1616.4,909.4 1617.9,926.2 1619.4,909.3 1620.9,925.5 1622.4,908.5 1623.9,922.1 1625.4,907.3 1626.9,918.4 1628.4,906.4 1629.9,917.3 1631.4,904.3 1632.9,916.3 1634.4,900.9 1635.9,915.1 1637.4,898.4 1638.9,914.8 1640.4,897.9 1641.9,914.2 1643.4,896.8 1644.9,912.2 1646.4,894.8 1647.9,910.5 1649.4,893.7 1650.9,909.1 1652.4,892.0 1653.9,904.9 1655.4,890.6 1656.9,902.5 1658.4,890.2 1659.9,903.2 1661.4,890.5 1662.9,903.4 1664.4,890.2 1665.9,903.2 1667.4,889.4 1668.9,902.9 1670.4,888.4 1671.9,902.7 1673.4,888.4 1674.9,902.7 1676.4,888.4 1677.9,902.7 1679.4,888.4 1680.9,902.7 1682.4,888.2 1683.9,900.3 1685.4,886.7 1686.9,893.6 1688.4,878.8 1689.9,884.5 1691.4,869.4 1692.9,879.0 1694.4,864.7 1695.9,878.2 1697.4,863.8 1698.9,877.5 1700.4,865.5 1701.9,868.7 1703.4,855.8 1704.9,862.1 1706.4,862.2 1707.9,864.5 1709.4,854.4 1710.9,842.7 1712.4,837.5 1713.9,832.5 1715.4,829.0 1716.9,826.1 1718.4,822.6 1719.9,817.0 1721.4,811.1 1722.9,798.6 1724.4,788.1 1725.9,779.2 1727.4,770.3 1728.9,769.0 1730.4,769.0 1731.9,772.1 1733.4,775.8 1734.9,779.5 1736.4,781.0 1737.9,763.5 1739.4,743.9 1740.9,725.8 1742.4,715.4 1743.9,709.0 1745.4,702.1 1746.9,691.1 1748.4,681.0 1749.9,673.5 1751.4,666.0 1752.9,663.2 1754.4,660.4 1755.9,657.6 1757.4,654.8 1758.9,651.8 1760.4,636.0 1761.9,618.7 1763.4,608.4 1764.9,619.0 1766.4,624.4 1767.9,638.5 1769.4,639.4 1770.9,646.2 1772.4,642.6 1773.9,646.4 1775.4,645.7 1776.9,646.2 1778.4,646.7 1779.9,647.1 1781.4,651.3 1782.9,667.5 1784.4,682.8 1785.9,697.8 1787.4,705.8 1788.9,712.1 1790.4,716.2 1791.9,719.2 1793.4,722.2 1794.9,736.9 1796.4,758.6 1797.9,777.5 1799.4,793.1 1800.9,797.0 1802.4,800.9 1803.9,804.6 1805.4,808.1 1806.9,811.6 1808.4,815.1 1809.9,823.1 1811.4,834.8 1812.9,850.7 1814.4,859.3 1815.9,865.3 1817.4,867.8 1818.9,870.3 1820.4,872.8 1821.9,876.6 1823.4,881.0 1824.9,886.2 1826.4,889.6 1827.9,896.8 1829.4,896.0 1830.9,905.3 1832.4,898.8 1833.9,911.7 1835.4,899.6 1836.9,915.2 1838.4,901.6 1839.9,916.6 1841.4,904.8 1842.9,917.8 1844.4,907.5 1845.9,918.3 1847.4,908.0 1848.9,918.3 1850.4,908.0 1851.9,919.0 1853.4,908.5 1854.9,921.3 1856.4,909.5 1857.9,924.3 1859.4,910.3 1860.9,926.1 1862.4,911.3 1863.9,926.9 1865.4,913.5 1866.9,927.8 1868.4,916.9 1869.9,929.0 1871.4,920.5 1872.9,931.6 1874.4,923.7 1875.9,934.9 1877.4,925.6 1878.9,937.6 1880.4,926.3 1881.9,939.4 1883.4,926.8 1884.9,940.8 1886.4,927.2 1887.9,941.5 1889.4,927.3 1890.9,941.6 1892.4,927.3 1893.9,941.6 1895.4,926.9 1896.9,941.3 1898.4,925.6 1899.9,940.8 1901.4,924.3 1902.9,939.5 1904.4,921.8 1905.9,936.0 1907.4,919.1 1908.9,933.7 1910.4,917.7 1911.9,932.9 1913.4,916.4 1914.9,932.1 1916.4,915.7 1917.9,932.1 1919.4,915.7 1920.9,932.3 1922.4,915.7 1923.9,932.3 1925.4,916.0 1926.9,933.3 1928.4,917.8 1929.9,934.6 1931.4,918.5 1932.9,936.5 1934.4,922.1 1935.9,938.4 1937.4,925.0 1938.9,939.5 1940.4,924.3 1941.9,939.3 1943.4,924.3 1944.9,939.3 1946.4,924.3 1947.9,939.3 1949.4,924.3 1950.9,939.3 1952.4,924.3 1953.9,939.3 1955.4,924.1 1956.9,938.0 1958.4,923.6 1959.9,936.5 1961.4,923.4 1962.9,936.1 1964.4,924.9 1965.9,936.4 1967.4,925.9 1968.9,936.6 1970.4,925.5 1971.9,936.5 1973.4,925.5 1974.9,936.1 1976.4,925.3 1977.9,935.6 1979.4,925.1 1980.9,935.2 1982.4,925.1 1983.9,935.2 1985.4,925.1 1986.9,935.2 1988.4,925.1 1989.9,935.2 1991.4,925.1 1992.9,934.5 1994.4,924.8 1995.9,933.9 1997.4,924.8 1998.9,935.0 2000.4,925.6 2001.9,937.8 2003.4,926.4 2004.9,939.5 2006.4,926.7 2007.9,940.0 2009.4,927.8 2010.9,940.5 2012.4,928.9 2013.9,940.7 2015.4,929.1 2016.9,940.5 2018.4,928.6 2019.9,941.3 2021.4,929.3 2022.9,943.6 2024.4,930.0 2025.9,945.7 2027.4,930.4 2028.9,945.9 2030.4,930.4 2031.9,945.9 2033.4,930.4 2034.9,945.9 2036.4,930.4 2037.9,945.9 2039.4,930.9 2040.9,946.3 2042.4,932.2 2043.9,946.7 2045.4,933.3 2046.9,946.8 2048.4,933.2 2049.9,945.8 2051.4,932.8 2052.9,944.5 2054.4,932.4 2055.9,943.9 2057.4,932.4 2058.9,943.9 2060.4,932.4 2061.9,944.1 2063.4,933.9 2064.9,944.9 2066.4,936.6" fill="none" stroke="#008080" stroke-width="17.5" stroke-linejoin="round" stroke-linecap="round"/><polyline points="167.4,919.2 174.4,907.0 177.2,907.0 179.0,938.5 181.8,938.5 186.3,915.1 189.3,915.1 199.3,941.3 202.3,941.3 210.4,903.6 213.4,903.6 223.1,905.9 226.8,925.2 234.5,927.4 237.5,927.4 242.9,907.4 245.9,907.4 255.3,924.0 257.5,924.0 259.0,902.7 261.3,902.7 267.9,924.0 270.9,924.0 277.2,899.0 280.2,899.0 288.4,924.0 291.2,924.0 293.1,898.6 295.8,898.6 301.3,921.8 304.3,921.8 312.4,911.1 315.4,911.1 321.7,927.4 324.7,927.4 328.2,886.6 331.2,886.6 341.7,920.9 355.1,927.4 358.1,927.4 360.6,899.6 363.6,899.6 368.1,929.2 371.1,929.2 379.2,897.7 382.2,897.7 387.5,923.7 390.5,923.7 394.0,892.5 397.0,892.5 407.0,911.6 410.0,911.6 415.3,881.8 418.3,881.8 433.3,908.5 435.6,908.5 437.1,870.3 439.3,870.3 445.7,877.3 447.3,877.3 448.5,865.6 450.1,865.6 455.3,870.8 458.1,870.8 460.0,836.0 462.7,836.0 469.7,857.8 472.5,809.8 474.7,791.3 477.5,776.4 484.5,765.3 488.2,754.2 491.0,735.6 493.6,727.8 495.8,727.8 501.2,733.8 504.0,746.8 506.4,769.0 509.0,791.3 511.8,809.8 515.1,821.9 520.7,830.2 525.3,841.3 529.0,852.5 531.8,865.4 535.5,874.7 540.3,877.5 541.9,877.5 543.7,872.9 545.6,903.3 549.3,882.1 551.1,910.7 560.4,903.6 561.3,920.0 568.2,912.0 571.2,912.0 577.4,925.2 580.4,925.2 583.4,904.6 585.6,904.6 587.1,912.5 589.3,912.5 594.1,895.3 597.1,895.3 599.7,917.2 602.7,917.2 612.7,901.8 615.7,901.8 623.8,933.9 626.8,933.9 631.2,902.7 634.2,902.7 638.6,914.4 641.6,914.4 644.2,882.9 647.2,882.9 651.6,898.6 654.6,898.6 658.7,876.6 660.5,858.0 663.4,893.1 665.1,893.1 666.2,854.5 667.9,854.5 675.4,885.7 678.2,828.4 683.0,833.9 684.4,833.9 686.1,791.3 686.9,766.8 688.4,753.8 692.1,742.7 695.8,726.8 696.5,711.1 697.3,692.5 698.0,674.0 698.9,655.4 699.9,636.9 700.6,618.4 701.5,599.8 702.4,581.3 703.9,562.7 705.8,544.2 707.1,525.6 714.5,507.1 716.2,489.3 718.8,507.1 721.0,525.6 721.5,544.2 722.5,562.7 723.4,581.3 724.9,599.8 726.4,618.4 727.9,636.9 729.3,655.4 731.0,674.0 732.1,692.5 733.6,711.1 734.0,717.1 735.1,733.8 742.1,747.7 744.5,763.4 745.3,779.2 751.0,792.2 753.3,808.0 756.6,826.5 762.2,838.6 763.6,848.8 765.1,865.4 767.4,884.0 767.7,898.6 779.2,880.3 781.1,908.8 790.8,902.5 793.6,902.5 795.4,931.1 798.2,931.1 805.5,907.4 808.5,907.4 811.1,944.1 814.1,944.1 820.8,926.8 823.0,926.8 824.5,946.9 826.7,946.9 833.4,924.0 836.4,924.0 846.3,945.9 849.3,945.9 851.9,935.2 854.9,935.2 867.7,954.3 870.7,954.3 880.6,921.8 883.6,921.8 889.0,960.8 892.0,960.8 902.0,938.0 905.0,938.0 914.9,964.5 917.9,964.5 929.8,930.5 932.8,930.5 949.2,958.5 951.2,943.5 959.4,959.5 962.4,959.5 976.0,930.8 979.0,930.8 992.5,961.4 995.5,961.4 1002.3,939.6 1005.3,939.6 1021.8,956.6 1024.8,956.6 1031.8,932.8 1034.2,932.8 1035.7,954.6 1038.1,954.6 1050.5,932.8 1052.5,954.6 1062.7,928.5 1065.7,928.5 1080.5,960.5 1082.9,960.5 1085.6,934.7 1099.7,930.8 1102.7,930.8 1105.5,964.4 1108.5,964.4 1113.3,927.9 1116.3,927.9 1119.2,968.3 1122.2,968.3 1135.7,927.5 1138.7,927.5 1149.9,934.7 1156.2,965.3 1159.2,965.3 1168.8,939.6 1171.8,939.6 1177.6,968.3 1180.6,968.3 1192.7,959.5 1205.9,937.7 1208.9,937.7 1218.5,961.4 1221.5,961.4 1226.3,938.6 1229.3,938.6 1245.8,959.5 1248.8,959.5 1261.4,943.5 1264.4,943.5 1269.2,957.5 1272.2,957.5 1278.9,942.5 1281.9,942.5 1290.6,963.4 1293.6,963.4 1303.3,933.8 1306.3,933.8 1325.7,961.4 1328.6,961.4 1330.6,927.9 1333.5,927.9 1343.8,953.6 1346.8,953.6 1350.6,932.8 1353.6,932.8 1363.3,944.9 1366.3,944.9 1380.8,932.8 1383.8,932.8 1390.6,955.6 1393.6,955.6 1402.3,926.6 1405.3,926.6 1427.6,950.7 1430.6,950.7 1435.4,938.6 1438.4,938.6 1447.1,955.6 1450.1,955.6 1452.9,926.0 1455.9,926.0 1462.7,949.7 1465.7,949.7 1469.5,931.8 1472.5,931.8 1476.3,952.7 1479.3,952.7 1499.7,920.7 1502.7,920.7 1511.4,933.2 1514.4,933.2 1532.8,907.5 1535.8,907.5 1542.5,935.1 1545.5,935.1 1552.3,913.3 1555.3,913.3 1562.9,937.0 1565.9,937.0 1572.8,904.5 1575.8,904.5 1607.7,935.2 1610.7,935.2 1618.2,900.8 1621.2,900.8 1636.9,923.1 1639.9,923.1 1645.7,891.5 1662.7,884.1 1665.7,884.1 1669.0,909.9 1672.0,909.9 1679.4,881.3 1682.4,881.3 1690.5,885.5 1693.5,885.5 1701.3,880.0 1702.3,857.0 1707.1,864.5 1708.5,864.5 1710.2,845.0 1714.3,831.1 1718.0,824.0 1721.4,811.6 1723.6,793.1 1727.7,769.0 1730.7,769.0 1735.5,781.0 1736.9,781.0 1738.4,755.0 1739.9,738.4 1741.4,719.8 1745.3,703.1 1748.1,682.7 1751.4,666.0 1759.4,651.2 1761.0,627.1 1762.7,606.9 1764.2,606.9 1766.6,627.1 1769.0,643.8 1781.1,647.5 1782.9,667.9 1784.4,682.7 1785.9,699.4 1789.4,714.2 1794.1,723.5 1795.0,738.4 1796.3,756.9 1797.8,775.4 1799.1,792.1 1803.3,803.3 1808.9,816.2 1811.1,831.1 1812.6,849.6 1815.4,864.5 1820.9,873.7 1824.7,884.9 1827.4,894.1 1830.0,900.8 1838.3,923.4 1841.3,923.4 1848.0,902.8 1851.0,902.8 1871.4,934.2 1874.4,934.2 1882.7,920.1 1884.5,920.1 1886.5,940.0 1897.7,948.8 1900.7,948.8 1906.0,923.1 1919.1,907.5 1922.1,907.5 1924.0,940.6 1926.9,940.6 1931.8,925.0 1934.8,925.0 1942.5,946.8 1945.5,946.8 1948.3,916.8 1951.3,916.8 1961.0,942.0 1964.0,942.0 1980.0,919.2 1981.0,941.0 1994.1,920.1 1997.1,920.1 2015.5,946.4 2018.5,946.4 2026.3,922.7 2029.3,922.7 2035.0,953.6 2038.0,953.6 2048.7,926.6 2051.7,926.6 2060.3,949.7 2063.3,949.7 2067.7,934.0" fill="none" stroke="#008080" stroke-width="17.5" stroke-linejoin="round" stroke-linecap="round"/></g></g><g id="guides"><line x1="493.6" y1="806" x2="493.6" y2="1401.5" stroke="#000" stroke-width="11" stroke-dasharray="41.4,54"/><line x1="716.6" y1="646.2" x2="716.6" y2="1401.5" stroke="#000" stroke-width="11" stroke-dasharray="41.4,54"/></g><g id="legend"><line x1="1156.0" y1="118.8" x2="1347.0" y2="118.8" stroke="#0000ff" stroke-width="18"/><line x1="1156.0" y1="247.8" x2="1347.0" y2="247.8" stroke="#000000" stroke-width="18"/><line x1="1156.0" y1="351.9" x2="1347.0" y2="351.9" stroke="#008080" stroke-width="18"/></g><g id="arrows"><line x1="597.0" y1="213.6" x2="500.6" y2="549.5" stroke="#000" stroke-width="11.5"/><polygon points="486.7,598.0 487.0,542.4 515.9,550.7" fill="#000" stroke="#000" stroke-width="5" stroke-linejoin="round"/><line x1="597.0" y1="213.6" x2="672.8" y2="356.4" stroke="#000" stroke-width="11.5"/><polygon points="696.4,401.0 658.1,360.8 684.6,346.7" fill="#000" stroke="#000" stroke-width="5" stroke-linejoin="round"/></g><g id="labels"><defs><clipPath id="kl1"><path clip-rule="evenodd" d="M-50,-200H1200V120H-50ZM199.98,24.77H211.34V30.59H199.98ZM215.97,24.77H226.76V30.59H215.97Z"/></clipPath><clipPath id="kl3"><path clip-rule="evenodd" d="M-50,-200H1200V120H-50ZM2.55,-7.06H21.29V2.55H2.55ZM28.94,-7.06H46.75V2.55H28.94Z"/></clipPath><clipPath id="kit"><path clip-rule="evenodd" d="M-50,-200H1200V120H-50ZM350.67,-9.99H377.22V3.61H350.67ZM388.06,-9.99H413.28V3.61H388.06Z"/></clipPath><clipPath id="kib"><path clip-rule="evenodd" d="M-50,-200H1200V120H-50ZM350.67,-9.99H377.22V3.61H350.67ZM388.06,-9.99H413.28V3.61H388.06ZM451.08,-9.99H477.63V3.61H451.08ZM488.46,-9.99H513.69V3.61H488.46Z"/></clipPath><clipPath id="kxl"><path clip-rule="evenodd" d="M-50,-200H1200V120H-50ZM764.71,-54.34H778.21V-47.42H764.71ZM783.71,-54.34H796.53V-47.42H783.71Z"/></clipPath><clipPath id="kt1000"><path clip-rule="evenodd" d="M-50,-200H1200V120H-50ZM2.16,-5.98H18.04V2.16H2.16ZM24.52,-5.98H39.60V2.16H24.52Z"/></clipPath><clipPath id="kt1500"><path clip-rule="evenodd" d="M-50,-200H1200V120H-50ZM2.16,-5.98H18.04V2.16H2.16ZM24.52,-5.98H39.60V2.16H24.52Z"/></clipPath></defs><text transform="translate(304.98,163.90) scale(1.0023,1.015)" font-size="85" fill="#000" font-family="Liberation Sans, sans-serif">Deposited carbon</text><text transform="translate(599.90,478.90) scale(1.0000,1.015)" font-size="85" fill="#000" font-family="Liberation Sans, sans-serif">G-band</text><text transform="translate(345.11,691.80) scale(0.9992,1.015)" font-size="85" fill="#000" font-family="Liberation Sans, sans-serif">D-band</text><text transform="translate(1701.77,584.90) scale(1.0258,1.04)" font-size="102" fill="#000" font-family="Liberation Sans, sans-serif">2D</text><text transform="translate(1371.00,147.80) scale(0.9992,1.04)" font-size="85" fill="#000" clip-path="url(#kl1)" font-family="Liberation Sans, sans-serif">0.5Ni<tspan font-size="51.5" dy="29.04">1</tspan><tspan dy="-29.04">/HAP-SAC</tspan></text><text transform="translate(1370.27,277.00) scale(1.0063,1.04)" font-size="85" fill="#000" font-family="Liberation Sans, sans-serif">5Ni/HAP</text><text transform="translate(1371.70,381.10) scale(1.0000,1.04)" font-size="85" fill="#000" clip-path="url(#kl3)" font-family="Liberation Sans, sans-serif">10Ni/HAP</text><text transform="translate(1023.86,854.00) scale(1.0039,1.04)" font-size="120.4" fill="#008080" clip-path="url(#kit)" font-family="Liberation Sans, sans-serif">I<tspan font-size="73" dy="40.38">G</tspan><tspan dy="-40.38">/I</tspan><tspan font-size="73" dy="40.38">D</tspan><tspan dy="-40.38"> = 1.22</tspan></text><text transform="translate(1034.03,1098.10) scale(1.0019,1.04)" font-size="120.4" fill="#000" clip-path="url(#kib)" font-family="Liberation Sans, sans-serif">I<tspan font-size="73" dy="40.38">G</tspan><tspan dy="-40.38">/I</tspan><tspan font-size="73" dy="40.38">D</tspan><tspan dy="-40.38"> = 1.19</tspan></text><text transform="translate(701.82,1660.80) scale(0.9972,1.015)" font-size="102" fill="#000" clip-path="url(#kxl)" font-family="Liberation Sans, sans-serif">Raman shift (cm<tspan font-size="61.2" dy="-49.26">-1</tspan><tspan dy="49.26">)</tspan></text><text transform="translate(98.10,1031.94) rotate(-90) scale(0.9929,1.015)" font-size="102" fill="#000" font-family="Liberation Sans, sans-serif">Intensity (a.u)</text><text transform="translate(89.60,1523.10) scale(1.0000,1.04)" font-size="72" fill="#000" clip-path="url(#kt1000)" font-family="Liberation Sans, sans-serif">1000</text><text transform="translate(563.60,1523.10) scale(1.0000,1.04)" font-size="72" fill="#000" clip-path="url(#kt1500)" font-family="Liberation Sans, sans-serif">1500</text><text transform="translate(1036.60,1523.10) scale(1.0000,1.04)" font-size="72" fill="#000" font-family="Liberation Sans, sans-serif">2000</text><text transform="translate(1510.40,1523.10) scale(1.0000,1.04)" font-size="72" fill="#000" font-family="Liberation Sans, sans-serif">2500</text><text transform="translate(1983.50,1523.10) scale(1.0000,1.04)" font-size="72" fill="#000" font-family="Liberation Sans, sans-serif">3000</text></g></svg>
</body></html>
